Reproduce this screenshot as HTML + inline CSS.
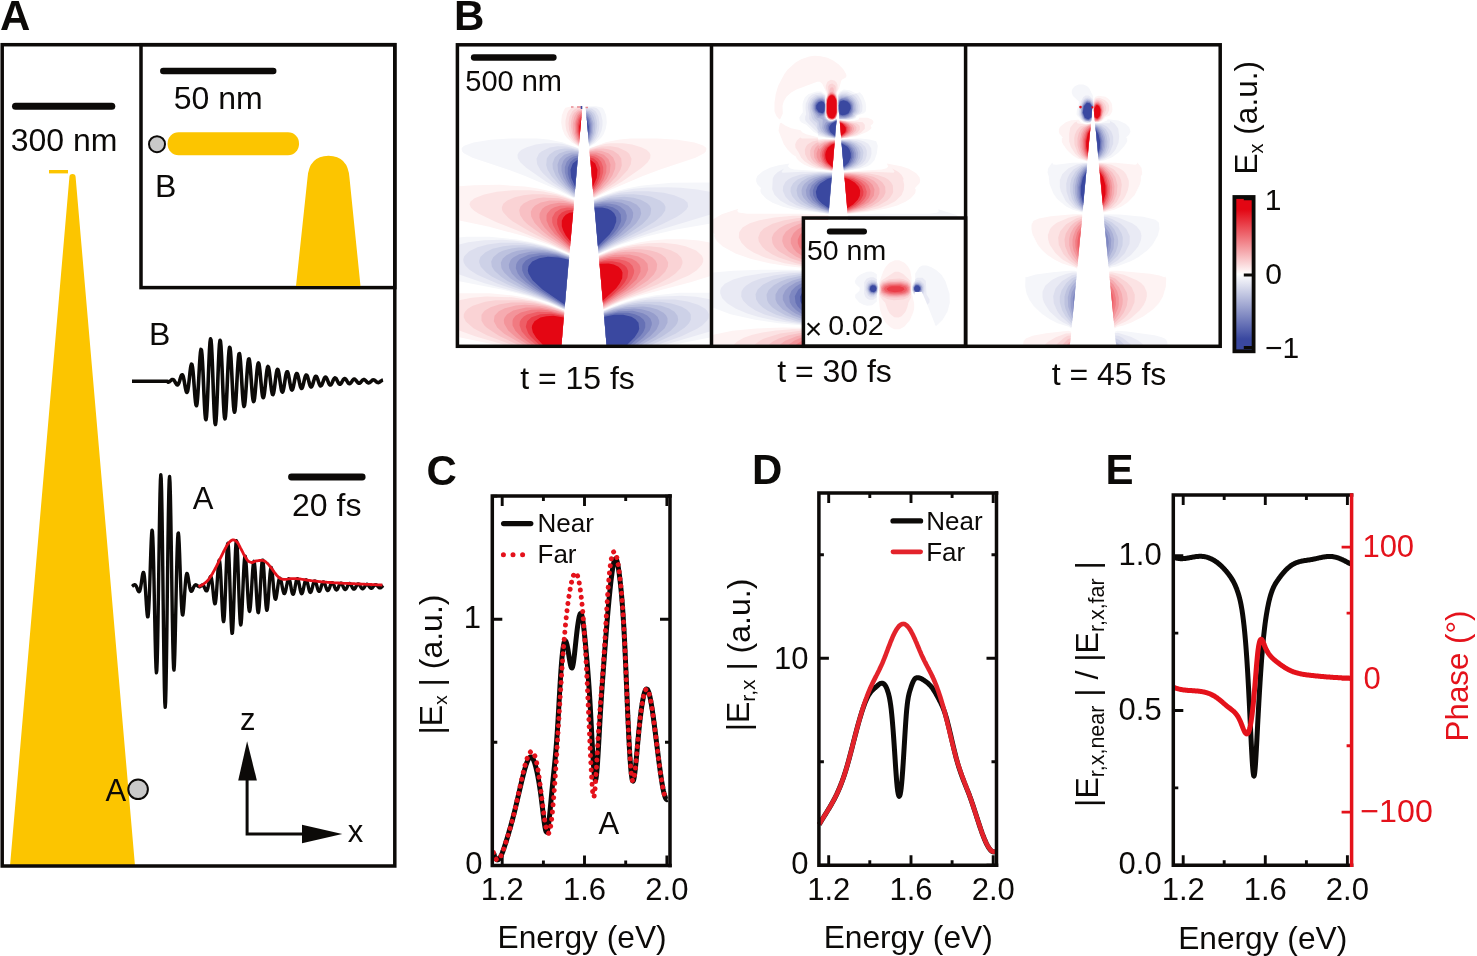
<!DOCTYPE html>
<html><head><meta charset="utf-8"><style>
html,body{margin:0;padding:0;background:#fff;}
svg{display:block;font-family:'Liberation Sans',sans-serif;will-change:transform;-webkit-font-smoothing:antialiased;}
</style></head><body>
<svg width="1477" height="956" viewBox="0 0 1477 956">
<rect width="1477" height="956" fill="#fff"/>
<text x="0" y="30" font-size="42" font-weight="bold" fill="#0c0a08">A</text>
<path d="M10,866 L69.4,177 A3.1,3.1 0 0 1 75.6,177 L135,866 Z" fill="#fcc500"/>
<rect x="49" y="170" width="19" height="3.4" fill="#fcc500"/>
<rect x="2.2" y="44.7" width="392.6" height="821.3" fill="none" stroke="#0c0a08" stroke-width="3.5"/>
<rect x="141" y="44.7" width="253.8" height="242.9" fill="none" stroke="#0c0a08" stroke-width="3.5"/>
<line x1="15.5" y1="106.3" x2="111.8" y2="106.3" stroke="#0c0a08" stroke-width="7" stroke-linecap="round"/>
<text x="10.7" y="150.7" font-size="32" text-anchor="start" font-weight="normal" fill="#0c0a08" >300 nm</text>
<line x1="163.3" y1="71" x2="273.2" y2="71" stroke="#0c0a08" stroke-width="6.5" stroke-linecap="round"/>
<text x="173.8" y="108.6" font-size="32" text-anchor="start" font-weight="normal" fill="#0c0a08" >50 nm</text>
<rect x="167.6" y="132.2" width="131.4" height="23" rx="11" fill="#fcc500"/>
<circle cx="157" cy="144.2" r="8" fill="#c9c9c9" stroke="#0c0a08" stroke-width="2"/>
<text x="155" y="197.3" font-size="32" text-anchor="start" font-weight="normal" fill="#0c0a08" >B</text>
<path d="M296,286 L307.5,178 Q309,156 328.5,155.8 Q348,156 349.5,178 L360.5,286 Z" fill="#fcc500"/>
<path d="M132.0,381.3L132.5,381.3L133.0,381.3L133.5,381.3L134.0,381.3L134.5,381.3L135.0,381.3L135.5,381.3L136.0,381.3L136.5,381.3L137.0,381.3L137.5,381.3L138.0,381.3L138.5,381.3L139.0,381.3L139.5,381.3L140.0,381.3L140.5,381.3L141.0,381.3L141.5,381.3L142.0,381.3L142.5,381.3L143.0,381.3L143.5,381.3L144.0,381.3L144.5,381.3L145.0,381.3L145.5,381.3L146.0,381.3L146.5,381.3L147.0,381.3L147.5,381.3L148.0,381.3L148.5,381.3L149.0,381.3L149.5,381.3L150.0,381.3L150.5,381.3L151.0,381.3L151.5,381.3L152.0,381.3L152.5,381.3L153.0,381.3L153.5,381.3L154.0,381.3L154.5,381.3L155.0,381.3L155.5,381.3L156.0,381.3L156.5,381.3L157.0,381.3L157.5,381.3L158.0,381.3L158.5,381.3L159.0,381.3L159.5,381.3L160.0,381.3L160.5,381.3L161.0,381.3L161.5,381.3L162.0,381.3L162.5,381.3L163.0,381.3L163.5,381.3L164.0,381.3L164.5,381.3L165.0,381.3L165.5,381.3L166.0,381.3L166.5,381.3L167.0,381.3L167.5,381.3L168.0,382.1L168.5,382.1L169.0,381.9L169.5,381.6L170.0,381.2L170.5,380.8L171.0,380.3L171.5,379.9L172.0,379.6L172.5,379.5L173.0,379.5L173.5,379.8L174.0,380.3L174.5,381.0L175.0,381.9L175.5,382.8L176.0,383.6L176.5,384.4L177.0,384.8L177.5,384.9L178.0,384.6L178.5,383.8L179.0,382.7L179.5,381.2L180.0,379.5L180.5,377.8L181.0,376.3L181.5,375.2L182.0,374.7L182.5,374.9L183.0,375.8L183.5,377.6L184.0,379.9L184.5,382.7L185.0,385.7L185.5,388.4L186.0,390.7L186.5,392.1L187.0,392.4L187.5,391.5L188.0,389.3L188.5,385.9L189.0,381.7L189.5,377.1L190.0,372.4L190.5,368.4L191.0,365.5L191.5,364.1L192.0,364.6L192.5,367.0L193.0,371.2L193.5,376.9L194.0,383.6L194.5,390.4L195.0,396.8L195.5,401.9L196.0,405.0L196.5,405.7L197.0,403.7L197.5,399.0L198.0,392.1L198.5,383.6L199.0,374.3L199.5,365.2L200.0,357.5L200.5,352.0L201.0,349.4L201.5,350.3L202.0,354.6L202.5,362.0L203.0,371.9L203.5,383.3L204.0,394.9L204.5,405.4L205.0,413.6L205.5,418.6L206.0,419.7L206.5,416.6L207.0,409.5L207.5,399.3L208.0,386.8L208.5,373.4L209.0,360.6L209.5,349.8L210.0,342.3L210.5,338.9L211.0,340.0L211.5,345.6L212.0,355.1L212.5,367.5L213.0,381.4L213.5,395.4L214.0,407.9L214.5,417.6L215.0,423.3L215.5,424.5L216.0,421.1L216.5,413.4L217.0,402.4L217.5,389.2L218.0,375.3L218.5,362.3L219.0,351.4L219.5,343.9L220.0,340.4L220.5,341.4L221.0,346.5L221.5,355.3L222.0,366.6L222.5,379.4L223.0,392.1L223.5,403.4L224.0,412.2L224.5,417.5L225.0,418.9L225.5,416.3L226.0,410.1L226.5,400.9L227.0,389.9L227.5,378.1L228.0,367.0L228.5,357.5L229.0,350.8L229.5,347.4L230.0,347.7L230.5,351.5L231.0,358.4L231.5,367.6L232.0,378.0L232.5,388.5L233.0,398.1L233.5,405.7L234.0,410.5L234.5,412.2L235.0,410.6L235.5,405.9L236.0,398.7L236.5,389.8L237.0,380.2L237.5,371.0L238.0,363.0L238.5,357.1L239.0,353.9L239.5,353.7L240.0,356.4L240.5,361.6L241.0,368.8L241.5,377.2L242.0,385.8L242.5,393.8L243.0,400.3L243.5,404.6L244.0,406.4L244.5,405.5L245.0,402.0L245.5,396.5L246.0,389.4L246.5,381.7L247.0,374.1L247.5,367.4L248.0,362.3L248.5,359.3L249.0,358.8L249.5,360.6L250.0,364.5L250.5,370.2L251.0,376.9L251.5,383.9L252.0,390.5L252.5,396.0L253.0,399.8L253.5,401.6L254.0,401.2L254.5,398.7L255.0,394.4L255.5,388.9L256.0,382.6L256.5,376.4L257.0,370.8L257.5,366.5L258.0,363.8L258.5,363.0L259.0,364.1L259.5,367.1L260.0,371.5L260.5,376.8L261.0,382.5L261.5,387.9L262.0,392.5L262.5,395.9L263.0,397.6L263.5,397.6L264.0,395.8L264.5,392.6L265.0,388.2L265.5,383.2L266.0,378.1L266.5,373.5L267.0,369.8L267.5,367.3L268.0,366.5L268.5,367.2L269.0,369.3L269.5,372.7L270.0,376.9L270.5,381.5L271.0,386.0L271.5,389.9L272.0,392.7L272.5,394.4L273.0,394.6L273.5,393.4L274.0,390.9L274.5,387.5L275.0,383.5L275.5,379.4L276.0,375.5L276.5,372.4L277.0,370.2L277.5,369.3L278.0,369.7L278.5,371.3L279.0,373.9L279.5,377.2L280.0,380.9L280.5,384.5L281.0,387.8L281.5,390.3L282.0,391.7L282.5,392.1L283.0,391.3L283.5,389.4L284.0,386.8L284.5,383.6L285.0,380.3L285.5,377.1L286.0,374.4L286.5,372.6L287.0,371.7L287.5,371.8L288.0,372.9L288.5,374.9L289.0,377.5L289.5,380.5L290.0,383.5L290.5,386.2L291.0,388.3L291.5,389.6L292.0,390.0L292.5,389.5L293.0,388.2L293.5,386.1L294.0,383.6L294.5,380.9L295.0,378.3L295.5,376.1L296.0,374.4L296.5,373.6L297.0,373.5L297.5,374.3L298.0,375.8L298.5,377.9L299.0,380.2L299.5,382.7L300.0,384.9L300.5,386.7L301.0,387.9L301.5,388.4L302.0,388.1L302.5,387.1L303.0,385.5L303.5,383.5L304.0,381.3L304.5,379.2L305.0,377.3L305.5,375.9L306.0,375.1L306.5,375.0L307.0,375.5L307.5,376.6L308.0,378.2L308.5,380.1L309.0,382.1L309.5,383.9L310.0,385.5L310.5,386.5L311.0,387.0L311.5,386.9L312.0,386.1L312.5,384.9L313.0,383.4L313.5,381.6L314.0,379.9L314.5,378.3L315.0,377.1L315.5,376.4L316.0,376.2L316.5,376.5L317.0,377.4L317.5,378.6L318.0,380.1L318.5,381.7L319.0,383.2L319.5,384.5L320.0,385.4L320.5,385.9L321.0,385.8L321.5,385.3L322.0,384.4L322.5,383.2L323.0,381.8L323.5,380.4L324.0,379.1L324.5,378.0L325.0,377.4L325.5,377.1L326.0,377.4L326.5,378.0L327.0,378.9L327.5,380.1L328.0,381.4L328.5,382.7L329.0,383.7L329.5,384.5L330.0,385.0L330.5,385.0L331.0,384.6L331.5,384.0L332.0,383.0L332.5,381.9L333.0,380.7L333.5,379.6L334.0,378.8L334.5,378.2L335.0,377.9L335.5,378.1L336.0,378.5L336.5,379.3L337.0,380.2L337.5,381.2L338.0,382.2L338.5,383.1L339.0,383.8L339.5,384.2L340.0,384.3L340.5,384.1L341.0,383.6L341.5,382.8L342.0,381.9L342.5,381.0L343.0,380.1L343.5,379.4L344.0,378.8L344.5,378.6L345.0,378.6L345.5,379.0L346.0,379.5L346.5,380.3L347.0,381.1L347.5,381.9L348.0,382.7L348.5,383.3L349.0,383.6L349.5,383.7L350.0,383.6L350.5,383.2L351.0,382.6L351.5,381.9L352.0,381.2L352.5,380.4L353.0,379.8L353.5,379.4L354.0,379.1L354.5,379.1L355.0,379.4L355.5,379.8L356.0,380.4L356.5,381.0L357.0,381.7L357.5,382.3L358.0,382.8L358.5,383.2L359.0,383.3L359.5,383.2L360.0,382.9L360.5,382.5L361.0,381.9L361.5,381.3L362.0,380.7L362.5,380.2L363.0,379.8L363.5,379.6L364.0,379.5L364.5,379.7L365.0,380.0L365.5,380.5L366.0,381.0L366.5,381.5L367.0,382.1L367.5,382.5L368.0,382.8L368.5,382.9L369.0,382.8L369.5,382.6L370.0,382.3L370.5,381.9L371.0,381.4L371.5,380.9L372.0,380.4L372.5,380.1L373.0,379.9L373.5,379.9L374.0,380.0L374.5,380.2L375.0,380.6L375.5,381.0L376.0,381.4L376.5,381.9L377.0,382.2L377.5,382.5L378.0,382.6L378.5,382.6L379.0,382.4L379.5,382.2L380.0,381.8L380.5,381.4L381.0,381.0L381.5,380.7L382.0,380.4L382.5,380.2L383.0,380.1" fill="none" stroke="#0c0a08" stroke-width="3.6" stroke-linejoin="round"/>
<text x="149" y="344.7" font-size="32" text-anchor="start" font-weight="normal" fill="#0c0a08" >B</text>
<path d="M132.0,586.4L132.4,586.1L132.8,585.8L133.2,585.4L133.6,585.1L134.0,584.9L134.4,584.7L134.8,584.7L135.2,584.8L135.6,585.2L136.0,585.7L136.4,586.5L136.8,587.4L137.2,588.4L137.6,589.5L138.0,590.5L138.4,591.2L138.8,591.7L139.2,591.8L139.6,591.3L140.0,590.2L140.4,588.6L140.8,586.4L141.2,583.9L141.6,581.0L142.0,578.2L142.4,575.6L142.8,573.6L143.2,572.5L143.6,572.5L144.0,573.8L144.4,576.5L144.8,580.5L145.2,585.8L145.6,591.9L146.0,598.4L146.4,604.8L146.8,610.4L147.2,614.7L147.6,616.9L148.0,616.7L148.4,613.7L148.8,607.8L149.2,599.3L149.6,588.7L150.0,576.5L150.4,563.9L150.8,551.8L151.2,541.4L151.6,534.0L152.0,530.3L152.4,531.2L152.8,537.0L153.2,547.6L153.6,562.6L154.0,580.8L154.4,601.1L154.8,621.7L155.2,640.9L155.6,656.9L156.0,667.9L156.4,672.8L156.8,670.7L157.2,661.3L157.6,645.1L158.0,623.0L158.4,596.8L158.8,568.3L159.2,540.1L159.6,514.5L160.0,493.8L160.4,480.1L160.8,474.7L161.2,478.4L161.6,491.1L162.0,511.9L162.4,539.3L162.8,571.1L163.2,604.7L163.6,637.2L164.0,665.9L164.4,688.3L164.8,702.6L165.2,707.4L165.6,702.4L166.0,688.0L166.4,665.5L166.8,636.9L167.2,604.6L167.6,571.3L168.0,539.8L168.4,512.8L168.8,492.3L169.2,480.0L169.6,476.5L170.0,482.0L170.4,495.6L170.8,515.9L171.2,541.1L171.6,568.7L172.0,596.5L172.4,622.1L172.8,643.5L173.2,659.2L173.6,668.2L174.0,670.1L174.4,665.2L174.8,654.4L175.2,639.0L175.6,620.4L176.0,600.5L176.4,581.1L176.8,563.5L177.2,549.3L177.6,539.2L178.0,533.7L178.4,533.0L178.8,536.5L179.2,543.7L179.6,553.5L180.0,565.0L180.4,577.1L180.8,588.5L181.2,598.6L181.6,606.6L182.0,612.1L182.4,614.8L182.8,615.0L183.2,612.9L183.6,608.9L184.0,603.6L184.4,597.6L184.8,591.5L185.2,585.8L185.6,581.0L186.0,577.2L186.4,574.7L186.8,573.5L187.2,573.6L187.6,574.6L188.0,576.5L188.4,578.8L188.8,581.5L189.2,584.1L189.6,586.4L190.0,588.4L190.4,589.9L190.8,590.9L191.2,591.3L191.6,591.2L192.0,590.8L192.4,590.1L192.8,589.2L193.2,588.2L193.6,587.3L194.0,586.5L194.4,585.8L194.8,585.3L195.2,585.0L195.6,584.8L196.0,584.9L196.4,585.0L196.8,585.3L197.2,585.5L197.6,585.8L198.0,586.1L198.4,586.4L198.8,586.6L199.2,586.7L199.6,586.8L200.0,586.7L200.4,586.4L200.8,586.1L201.2,585.7L201.6,585.4L202.0,585.1L202.4,585.0L202.8,585.0L203.2,585.3L203.6,585.8L204.0,586.6L204.4,587.4L204.8,588.4L205.2,589.3L205.6,590.1L206.0,590.6L206.4,590.9L206.8,590.8L207.2,590.1L207.6,589.0L208.0,587.5L208.4,585.5L208.8,583.4L209.2,581.2L209.6,579.3L210.0,577.7L210.4,576.8L210.8,576.6L211.2,577.3L211.6,578.9L212.0,581.5L212.4,584.8L212.8,588.6L213.2,592.7L213.6,596.6L214.0,600.0L214.4,602.5L214.8,603.8L215.2,603.6L215.6,601.8L216.0,598.6L216.4,594.0L216.8,588.3L217.2,582.0L217.6,575.6L218.0,569.7L218.4,564.9L218.8,561.5L219.2,560.2L219.6,561.0L220.0,564.2L220.4,569.4L220.8,576.4L221.2,584.8L221.6,593.7L222.0,602.5L222.4,610.3L222.8,616.6L223.2,620.5L223.6,621.6L224.0,619.8L224.4,615.0L224.8,607.6L225.2,598.0L225.6,587.1L226.0,575.7L226.4,564.7L226.8,555.2L227.2,548.0L227.6,543.9L228.0,543.3L228.4,546.4L228.8,553.0L229.2,562.5L229.6,574.3L230.0,587.2L230.4,600.3L230.8,612.4L231.2,622.6L231.6,629.7L232.0,633.3L232.4,633.0L232.8,628.8L233.2,620.9L233.6,610.1L234.0,597.4L234.4,583.8L234.8,570.6L235.2,558.8L235.6,549.4L236.0,543.2L236.4,540.7L236.8,542.0L237.2,546.9L237.6,555.1L238.0,565.8L238.4,577.8L238.8,590.2L239.2,601.9L239.6,611.8L240.0,619.2L240.4,623.7L240.8,624.9L241.2,623.0L241.6,618.1L242.0,610.8L242.4,601.8L242.8,592.0L243.2,582.1L243.6,573.1L244.0,565.5L244.4,560.0L244.8,556.9L245.2,556.2L245.6,558.1L246.0,562.3L246.4,568.2L246.8,575.3L247.2,583.0L247.6,590.7L248.0,597.7L248.4,603.7L248.8,608.1L249.2,610.8L249.6,611.4L250.0,609.9L250.4,606.6L250.8,601.6L251.2,595.5L251.6,588.6L252.0,581.6L252.4,575.0L252.8,569.2L253.2,564.8L253.6,562.1L254.0,561.4L254.4,562.8L254.8,566.1L255.2,571.2L255.6,577.7L256.0,585.0L256.4,592.4L256.8,599.4L257.2,605.4L257.6,609.8L258.0,612.2L258.4,612.6L258.8,610.7L259.2,606.8L259.6,601.2L260.0,594.4L260.4,586.9L260.8,579.3L261.2,572.3L261.6,566.4L262.0,562.2L262.4,560.1L262.8,560.1L263.2,562.4L263.6,566.7L264.0,572.5L264.4,579.5L264.8,586.9L265.2,594.0L265.6,600.4L266.0,605.5L266.4,608.9L266.8,610.3L267.2,609.7L267.6,607.2L268.0,603.0L268.4,597.6L268.8,591.5L269.2,585.2L269.6,579.3L270.0,574.3L270.4,570.6L270.8,568.3L271.2,567.6L271.6,568.6L272.0,570.9L272.4,574.3L272.8,578.6L273.2,583.2L273.6,587.8L274.0,591.9L274.4,595.3L274.8,597.7L275.2,599.0L275.6,599.2L276.0,598.3L276.4,596.5L276.8,594.0L277.2,591.2L277.6,588.1L278.0,585.1L278.4,582.5L278.8,580.4L279.2,579.0L279.6,578.2L280.0,578.2L280.4,578.7L280.8,579.9L281.2,581.4L281.6,583.3L282.0,585.5L282.4,587.6L282.8,589.6L283.2,591.3L283.6,592.6L284.0,593.4L284.4,593.6L284.8,593.2L285.2,592.2L285.6,590.8L286.0,589.1L286.4,587.0L286.8,585.0L287.2,583.0L287.6,581.2L288.0,579.8L288.4,579.0L288.8,578.7L289.2,579.1L289.6,580.2L290.0,581.7L290.4,583.7L290.8,586.0L291.2,588.3L291.6,590.4L292.0,592.2L292.4,593.5L292.8,594.2L293.2,594.3L293.6,593.7L294.0,592.5L294.4,590.8L294.8,588.8L295.2,586.5L295.6,584.3L296.0,582.2L296.4,580.5L296.8,579.3L297.2,578.7L297.6,578.7L298.0,579.4L298.4,580.6L298.8,582.3L299.2,584.4L299.6,586.5L300.0,588.7L300.4,590.6L300.8,592.2L301.2,593.2L301.6,593.7L302.0,593.6L302.4,592.8L302.8,591.6L303.2,589.9L303.6,588.0L304.0,586.0L304.4,584.1L304.8,582.4L305.2,581.0L305.6,580.1L306.0,579.8L306.4,580.0L306.8,580.7L307.2,581.9L307.6,583.4L308.0,585.2L308.4,587.0L308.8,588.7L309.2,590.2L309.6,591.4L310.0,592.1L310.4,592.4L310.8,592.1L311.2,591.4L311.6,590.3L312.0,588.9L312.4,587.3L312.8,585.7L313.2,584.1L313.6,582.8L314.0,581.8L314.4,581.1L314.8,580.9L315.2,581.2L315.6,581.9L316.0,583.0L316.4,584.3L316.8,585.7L317.2,587.2L317.6,588.6L318.0,589.8L318.4,590.7L318.8,591.2L319.2,591.4L319.6,591.1L320.0,590.4L320.4,589.4L320.8,588.2L321.2,586.8L321.6,585.5L322.0,584.2L322.4,583.2L322.8,582.4L323.2,582.0L323.6,581.9L324.0,582.2L324.4,582.9L324.8,583.8L325.2,584.9L325.6,586.2L326.0,587.4L326.4,588.5L326.8,589.5L327.2,590.1L327.6,590.5L328.0,590.5L328.4,590.2L328.8,589.5L329.2,588.7L329.6,587.6L330.0,586.5L330.4,585.3L330.8,584.3L331.2,583.5L331.6,582.9L332.0,582.6L332.4,582.6L332.8,583.0L333.2,583.6L333.6,584.4L334.0,585.4L334.4,586.5L334.8,587.5L335.2,588.4L335.6,589.2L336.0,589.7L336.4,590.0L336.8,589.9L337.2,589.5L337.6,588.9L338.0,588.1L338.4,587.2L338.8,586.2L339.2,585.2L339.6,584.4L340.0,583.7L340.4,583.3L340.8,583.1L341.2,583.2L341.6,583.5L342.0,584.1L342.4,584.9L342.8,585.8L343.2,586.7L343.6,587.6L344.0,588.4L344.4,589.0L344.8,589.4L345.2,589.5L345.6,589.4L346.0,589.0L346.4,588.5L346.8,587.7L347.2,586.9L347.6,586.0L348.0,585.2L348.4,584.5L348.8,583.9L349.2,583.6L349.6,583.5L350.0,583.6L350.4,584.0L350.8,584.5L351.2,585.2L351.6,586.0L352.0,586.9L352.4,587.6L352.8,588.3L353.2,588.8L353.6,589.1L354.0,589.1L354.4,589.0L354.8,588.6L355.2,588.1L355.6,587.4L356.0,586.6L356.4,585.9L356.8,585.2L357.2,584.6L357.6,584.2L358.0,583.9L358.4,583.9L358.8,584.1L359.2,584.4L359.6,584.9L360.0,585.6L360.4,586.3L360.8,587.0L361.2,587.6L361.6,588.1L362.0,588.5L362.4,588.7L362.8,588.7L363.2,588.5L363.6,588.2L364.0,587.7L364.4,587.1L364.8,586.4L365.2,585.8L365.6,585.2L366.0,584.8L366.4,584.5L366.8,584.3L367.2,584.3L367.6,584.5L368.0,584.8L368.4,585.3L368.8,585.9L369.2,586.4L369.6,587.0L370.0,587.5L370.4,587.9L370.8,588.2L371.2,588.3L371.6,588.3L372.0,588.1L372.4,587.8L372.8,587.3L373.2,586.8L373.6,586.3L374.0,585.8L374.4,585.4L374.8,585.0L375.2,584.8L375.6,584.7L376.0,584.7L376.4,584.9L376.8,585.2L377.2,585.6L377.6,586.1L378.0,586.5L378.4,587.0L378.8,587.4L379.2,587.7L379.6,587.9L380.0,587.9L380.4,587.9L380.8,587.7L381.2,587.4L381.6,587.0L382.0,586.6L382.4,586.2L382.8,585.8L383.2,585.5" fill="none" stroke="#0c0a08" stroke-width="3.4" stroke-linejoin="round"/>
<path d="M198.4,586.4L199.4,586.1L200.4,585.8L201.4,585.3L202.4,584.7L203.4,584.1L204.4,583.4L205.4,582.7L206.4,581.8L207.4,580.8L208.4,579.6L209.4,578.3L210.4,576.9L211.4,575.4L212.4,573.7L213.4,571.9L214.4,570.1L215.4,568.3L216.4,566.3L217.4,564.3L218.4,562.3L219.4,560.2L220.4,558.2L221.4,556.1L222.4,554.1L223.4,552.0L224.4,550.1L225.4,548.3L226.4,546.4L227.4,544.6L228.4,543.2L229.4,542.1L230.4,541.2L231.4,540.5L232.4,539.9L233.4,539.8L234.4,540.1L235.4,540.7L236.4,541.5L237.4,542.4L238.4,543.9L239.4,545.8L240.4,547.9L241.4,549.7L242.4,551.7L243.4,553.7L244.4,555.5L245.4,557.1L246.4,558.8L247.4,560.3L248.4,561.3L249.4,561.8L250.4,562.2L251.4,562.5L252.4,562.5L253.4,562.1L254.4,561.6L255.4,561.2L256.4,560.9L257.4,560.8L258.4,560.6L259.4,560.5L260.4,560.4L261.4,560.3L262.4,560.3L263.4,560.5L264.4,561.0L265.4,561.7L266.4,562.5L267.4,563.3L268.4,564.4L269.4,565.6L270.4,566.9L271.4,568.2L272.4,569.5L273.4,570.9L274.4,572.3L275.4,573.6L276.4,574.9L277.4,575.9L278.4,576.9L279.4,577.9L280.4,578.6L281.4,578.9L282.4,579.1L283.4,579.3L284.4,579.4L285.4,579.4L286.4,579.3L287.4,579.2L288.4,579.0L289.4,578.8L290.4,578.6L291.4,578.6L292.4,578.6L293.4,578.6L294.4,578.7L295.4,578.7L296.4,578.7L297.4,578.8L298.4,578.8L299.4,578.9L300.4,579.0L301.4,579.2L302.4,579.3L303.4,579.5L304.4,579.6L305.4,579.8L306.4,580.0L307.4,580.1L308.4,580.3L309.4,580.4L310.4,580.5L311.4,580.7L312.4,580.8L313.4,580.9L314.4,581.0L315.4,581.1L316.4,581.2L317.4,581.3L318.4,581.5L319.4,581.6L320.4,581.7L321.4,581.8L322.4,581.9L323.4,582.0L324.4,582.1L325.4,582.1L326.4,582.2L327.4,582.3L328.4,582.4L329.4,582.5L330.4,582.5L331.4,582.6L332.4,582.7L333.4,582.7L334.4,582.8L335.4,582.8L336.4,582.9L337.4,582.9L338.4,583.0L339.4,583.1L340.4,583.1L341.4,583.2L342.4,583.2L343.4,583.3L344.4,583.3L345.4,583.3L346.4,583.4L347.4,583.4L348.4,583.5L349.4,583.5L350.4,583.6L351.4,583.6L352.4,583.7L353.4,583.7L354.4,583.7L355.4,583.8L356.4,583.8L357.4,583.9L358.4,583.9L359.4,584.0L360.4,584.0L361.4,584.1L362.4,584.1L363.4,584.2L364.4,584.2L365.4,584.3L366.4,584.3L367.4,584.3L368.4,584.4L369.4,584.4L370.4,584.5L371.4,584.5L372.4,584.6L373.4,584.6L374.4,584.7L375.4,584.7L376.4,584.8L377.4,584.8L378.4,584.8L379.4,584.9L380.4,584.9L381.4,585.0L382.4,585.0" fill="none" stroke="#e4121b" stroke-width="2.8" stroke-linejoin="round"/>
<text x="192.8" y="508.9" font-size="31" text-anchor="start" font-weight="normal" fill="#0c0a08" >A</text>
<line x1="291.5" y1="477" x2="362.2" y2="477" stroke="#0c0a08" stroke-width="6.8" stroke-linecap="round"/>
<text x="292" y="515.7" font-size="32" text-anchor="start" font-weight="normal" fill="#0c0a08" >20 fs</text>
<path d="M247.1,780 L247.1,834.1 L303,834.1" fill="none" stroke="#0c0a08" stroke-width="3"/>
<path d="M247.1,741.2 L238.2,780.5 L256.9,780.5 Z" fill="#0c0a08"/>
<path d="M342.3,834.1 L302,824.7 L302,843.3 Z" fill="#0c0a08"/>
<text x="240" y="730.4" font-size="31" text-anchor="start" font-weight="normal" fill="#0c0a08" >z</text>
<text x="347.7" y="842.4" font-size="31" text-anchor="start" font-weight="normal" fill="#0c0a08" >x</text>
<text x="105.5" y="801.1" font-size="31" text-anchor="start" font-weight="normal" fill="#0c0a08" >A</text>
<circle cx="138.1" cy="789.3" r="9.8" fill="#c9c9c9" stroke="#0c0a08" stroke-width="2"/>
<text x="454" y="30.3" font-size="42" font-weight="bold" fill="#0c0a08">B</text>
<defs><clipPath id="clip805"><rect x="805" y="220" width="159" height="125"/></clipPath><clipPath id="clip967"><rect x="967" y="46" width="252" height="299"/></clipPath><clipPath id="clip713"><rect x="713" y="46" width="251" height="299"/></clipPath><clipPath id="clip459"><rect x="459" y="46" width="251" height="299"/></clipPath></defs><g clip-path="url(#clip459)"><path fill="#fef3f3" fill-rule="evenodd" d="M459.2 293.2L459.2 337.2 495.2 344.8 561.5 344.8 564.2 310.5 552.5 305.5 540.5 301.5 525.8 297.8 512.8 295.5 489.8 293.2ZM709.8 242.5L698.8 240.5 683.5 239.2 667.2 239.2 651.2 240.5 640.2 242.2 622.8 246.2 611.5 249.8 598.8 255.2 603.5 309.5 619.8 302.2 637.2 296.2 690.5 282.2 709.8 276.2ZM459.2 186.2L459.5 220.5 489.2 226.8 525.2 236.5 551.2 245.5 569.5 253.8 574.2 199.8 563.2 195.2 551.5 191.5 536.5 188.2 524.8 186.5 499.2 184.8 473.8 185.2ZM593.8 198.2L610.8 189.8 642.2 176.2 660.2 169.5 695.5 157.8 704.2 153.2 705.8 151.5 706.5 148.8 705.8 147.5 703.2 145.5 694.5 142.5 677.5 139.8 657.5 138.5 630.8 138.5 619.5 139.5 605.8 142.2 589.5 148.2ZM565.5 107.8L563.8 110.2 561.8 115.5 561.2 122.5 562.2 128.8 564.5 134.5 566.8 137.8 571.5 142.2 578.8 146.8 582.2 106.8 579.2 106.2 571.8 106.2Z"/><path fill="#fce3e4" fill-rule="evenodd" d="M459.2 300.2L459.2 330.5 475.8 336.5 504.2 344.8 561.5 344.8 564.2 310.8 560.5 309.2 537.5 301.5 512.2 297.2 486.2 296.5 471.5 297.8ZM701.8 255.5L696.2 250.5 685.5 246.2 676.5 244.2 662.8 242.8 647.5 243.2 632.2 245.2 616.8 248.8 599.2 255.5 598.8 257.5 603.5 309.2 611.8 304.8 626.2 298.8 669.5 283.8 689.2 275.2 696.8 270.2 701.8 264.8 703.2 261.5 703.2 258.5ZM470.5 201.5L469.5 204.2 470.8 207.5 473.8 210.5 478.8 213.8 496.5 222.2 548.8 243.2 569.5 253.2 573.8 200.2 557.5 194.5 543.2 191.5 530.5 190.2 512.5 190.2 496.8 191.8 484.2 194.5 474.5 198.2ZM649.2 152.2L646.5 149.8 641.2 147.2 632.2 144.5 623.2 143.2 611.2 143.2 605.8 143.8 596.2 146.2 589.8 148.5 589.5 151.5 593.5 197.2 595.5 196.8 621.8 181.8 641.8 167.8 647.5 162.5 650.2 158.2 650.5 154.8ZM574.2 107.2L571.2 108.2 568.8 110.5 567.2 113.5 565.5 120.5 565.5 125.5 566.5 130.8 569.2 136.8 573.5 142.2 578.8 146.2 582.2 107.5Z"/><path fill="#fad3d5" fill-rule="evenodd" d="M463.8 314.2L463.8 317.5 465.8 321.5 473.5 328.2 486.8 335.2 511.5 344.8 561.5 344.8 564.2 311.5 548.5 305.5 531.5 301.5 521.5 300.2 495.8 300.2 485.2 301.8 472.8 305.8 467.8 308.8 465.2 311.5ZM681.2 257.5L677.2 253.5 670.8 250.2 661.5 247.5 649.2 246.2 636.8 246.5 624.8 248.2 611.5 251.5 598.8 256.2 603.5 308.5 621.5 299.5 657.8 284.2 669.5 277.8 675.5 273.5 680.5 268.2 682.5 263.2 682.5 261.2ZM503.5 203.5L501.8 207.2 502.2 210.2 503.2 212.2 508.2 217.8 512.5 221.2 530.2 231.8 569.5 252.5 573.8 201.2 565.5 198.2 556.2 195.8 542.8 194.2 532.5 194.2 523.5 195.2 514.8 197.2 507.2 200.5ZM626.2 151.2L618.2 147.5 610.5 146.2 601.2 146.5 589.5 149.5 593.5 197.2 615.2 182.5 619.5 178.8 627.5 170.2 630.8 164.2 631.5 158.8 629.2 153.8ZM582.2 108.2L577.2 108.2 574.2 109.5 572.2 111.5 569.5 116.8 568.5 123.5 569.2 130.2 571.2 136.2 573.8 140.5 578.8 145.5Z"/><path fill="#f8c0c4" fill-rule="evenodd" d="M481.5 314.8L481.5 320.8 484.2 325.2 486.8 327.8 498.8 335.8 517.8 344.8 561.5 344.8 564.2 312.2 559.8 310.2 549.8 306.8 536.5 303.8 524.8 302.5 511.8 302.5 499.8 304.2 490.5 307.2 484.5 310.8ZM665.5 257.5L661.2 254.2 656.8 252.2 649.5 250.2 641.2 249.2 632.2 249.2 620.8 250.5 608.5 253.5 599.2 256.8 603.5 307.5 645.5 286.5 659.5 277.5 665.2 271.8 667.8 266.8 668.2 262.5ZM520.5 206.5L519.2 210.2 520.2 215.2 523.5 220.2 527.5 224.2 542.5 235.2 569.5 251.5 573.8 202.2 558.5 198.2 543.2 197.5 537.5 198.2 529.8 200.2 523.5 203.5ZM613.2 150.8L608.2 149.2 603.2 148.5 596.2 148.8 589.5 150.5 593.5 196.2 609.8 183.5 616.5 176.2 620.5 169.5 621.8 165.2 621.2 158.5 618.5 154.5ZM582.2 109.2L578.5 109.5 574.2 112.8 572.5 115.8 571.2 120.8 570.8 125.8 572.2 133.8 574.8 139.5 578.8 144.5Z"/><path fill="#f6abb0" fill-rule="evenodd" d="M494.5 315.8L493.8 321.2 497.2 327.5 504.2 333.8 523.2 344.8 561.5 344.8 564.2 312.8 563.2 312.2 545.2 306.8 533.5 305.2 524.8 304.8 515.8 305.5 504.8 308.2 498.8 311.2ZM655.5 260.5L652.5 257.5 646.8 254.5 641.2 252.8 633.5 251.8 625.8 251.8 616.8 252.8 607.8 254.8 599.2 257.8 603.2 306.8 632.8 290.5 647.8 280.5 653.8 274.5 656.5 269.8 657.2 264.2ZM535.2 205.5L532.5 208.2 530.8 211.8 531.2 216.5 534.5 222.8 541.8 230.5 548.8 236.2 569.8 250.2 573.8 203.5 563.2 200.8 549.8 200.5 540.8 202.5ZM601.2 150.8L595.8 150.5 589.5 151.5 593.5 194.8 601.8 188.2 608.2 181.5 612.2 175.8 615.2 168.5 615.5 163.5 613.2 157.5 608.8 153.5ZM581.8 110.2L578.2 111.5 576.2 113.5 574.2 117.2 572.8 123.2 572.8 128.5 573.8 133.8 576.2 139.5 579.2 143.8Z"/><path fill="#f3949a" fill-rule="evenodd" d="M504.5 317.8L503.8 320.2 504.2 323.8 508.2 330.5 516.2 337.5 527.8 344.8 561.5 344.8 564.2 313.5 555.5 310.5 539.2 307.5 526.2 307.5 513.2 310.5 507.2 314.2ZM643.8 259.5L638.2 256.5 629.2 254.5 614.8 254.8 603.8 257.2 599.2 258.8 603.2 305.8 632.8 287.5 643.8 277.8 645.8 275.2 648.2 269.8 647.5 263.8ZM545.2 206.5L542.2 208.8 539.5 213.8 539.5 217.8 541.2 222.5 544.5 227.5 551.2 234.5 569.8 249.2 573.8 204.5 566.5 203.2 558.8 202.8 550.5 204.2ZM589.8 152.5L593.5 193.8 599.8 187.8 606.8 178.8 609.8 172.2 610.5 164.5 608.5 159.2 603.8 154.8 596.8 152.5ZM581.8 111.2L579.8 112.2 577.2 115.2 574.5 123.2 575.2 133.5 577.2 139.2 579.2 142.5Z"/><path fill="#f17a81" fill-rule="evenodd" d="M513.2 318.8L512.5 320.8 512.5 325.2 515.2 330.5 521.8 337.5 531.8 344.8 561.5 344.8 563.8 314.2 547.8 310.2 540.8 309.5 531.2 309.8 520.8 312.5 515.5 315.8ZM636.2 261.2L631.8 258.8 623.2 256.8 610.5 257.2 599.2 259.8 603.2 304.8 625.8 289.5 636.5 279.5 640.5 271.8 640.5 267.2 639.2 264.2ZM554.5 207.2L550.8 209.2 547.2 213.5 546.5 215.5 546.5 220.5 549.2 226.8 554.5 233.8 569.8 247.5 573.5 206.2 570.8 205.5 560.8 205.5ZM589.8 154.2L593.2 192.5 599.8 185.2 603.5 179.5 606.2 172.5 606.5 165.8 604.5 160.5 601.8 157.5 595.8 154.5ZM581.8 112.5L578.5 115.8 576.5 120.5 575.8 124.5 576.2 132.5 579.2 140.8Z"/><path fill="#ee5e66" fill-rule="evenodd" d="M521.2 319.2L519.8 321.8 519.5 325.2 521.8 331.5 527.2 337.8 535.8 344.8 561.5 344.8 563.8 315.2 551.2 312.2 537.8 311.8 527.2 314.5 523.8 316.5ZM629.5 262.8L625.5 260.8 618.5 259.2 608.5 259.2 599.2 261.2 603.2 303.5 623.2 288.5 628.2 283.5 631.8 278.5 633.8 273.8 634.2 270.5 632.5 265.8ZM567.2 207.5L560.8 208.8 555.2 212.2 552.2 217.5 552.2 222.2 553.2 225.5 557.2 232.5 562.8 239.2 570.2 246.2 573.5 207.8ZM589.8 155.5L593.2 190.8 599.2 182.8 601.5 178.2 603.2 172.2 603.2 167.2 601.2 161.8 598.2 158.5 594.5 156.5ZM581.5 114.2L578.5 118.8 577.2 124.2 577.2 131.5 579.5 139.8Z"/><path fill="#ea3e48" fill-rule="evenodd" d="M527.2 321.2L525.8 326.8 528.2 333.2 530.8 336.8 539.2 344.8 561.5 344.8 563.8 316.2 551.5 313.8 540.5 314.2 531.5 317.2ZM620.2 262.8L612.2 261.2 603.5 261.5 599.5 262.5 602.8 302.5 612.2 295.2 620.5 287.5 624.8 282.2 627.5 277.2 628.2 271.2 626.8 267.8 624.8 265.5ZM573.2 209.5L566.2 210.5 561.8 212.5 558.8 215.5 557.2 219.2 557.2 224.2 559.5 230.5 564.5 237.8 570.2 243.8ZM590.2 157.5L592.8 189.2 596.5 183.8 598.8 178.8 600.2 173.8 600.2 167.8 597.5 161.8 593.5 158.5ZM581.5 116.2L579.5 119.5 578.2 125.5 578.2 131.2 579.5 137.5Z"/><path fill="#e40613" fill-rule="evenodd" d="M534.5 321.2L532.2 325.2 531.8 327.5 532.8 332.2 536.2 337.8 542.8 344.8 561.5 344.8 563.8 317.5 553.5 315.8 546.2 316.2 540.5 317.5ZM613.8 264.5L608.5 263.5 599.5 263.8 602.8 300.8 616.2 288.2 619.8 283.2 622.2 278.2 622.5 272.5 621.2 269.5 618.5 266.8ZM573.2 212.2L569.5 212.8 565.8 214.8 563.5 217.2 561.8 220.8 561.8 226.2 563.2 230.5 565.8 235.5 570.5 241.5ZM590.5 159.8L592.8 186.8 596.8 177.8 597.5 169.8 595.2 163.5ZM581.2 118.8L579.2 126.8 579.8 135.2Z"/><path fill="#f5f6fa" fill-rule="evenodd" d="M709.8 292.8L679.2 292.8 654.2 295.5 637.2 298.8 626.2 301.8 614.5 305.8 603.8 310.5 606.5 344.8 673.8 344.8 709.8 337.5ZM459.2 237.5L459.2 281.2 501.5 289.5 525.2 295.2 548.2 302.5 564.5 309.8 569.2 257.5 568.8 254.8 558.2 250.2 545.5 245.8 532.8 242.5 516.8 239.5 489.2 236.8 466.5 236.8ZM709.8 182.5L671.2 182.8 640.5 185.8 626.5 188.5 613.8 191.8 593.8 199.5 598.5 253.8 621.5 244.2 646.2 236.5 676.2 229.5 709.5 223.8ZM461.5 148.8L462.2 151.5 463.8 153.2 472.5 157.8 507.8 169.5 525.8 176.2 557.2 189.8 574.2 198.2 578.5 148.2 562.2 142.2 548.5 139.5 537.2 138.5 510.5 138.5 490.5 139.8 473.5 142.5 464.8 145.5 462.8 146.8ZM596.2 106.2L588.8 106.2 585.8 106.8 589.2 146.8 595.2 143.2 601.2 137.8 603.5 134.5 605.8 128.8 606.8 122.5 606.2 115.5 604.2 110.2 602.5 107.8Z"/><path fill="#e9eaf4" fill-rule="evenodd" d="M709.8 299.2L696.2 296.8 681.2 295.8 656.2 296.8 642.2 298.8 627.5 302.2 603.8 310.8 606.5 344.8 665.2 344.8 709.8 331.5ZM459.2 244.5L459.2 274.5 484.5 283.2 530.5 295.8 551.8 303.5 564.5 309.5 569.2 255.2 557.2 250.2 544.5 246.2 528.2 242.5 513.2 240.5 502.5 239.8 484.2 240.2 468.2 242.2ZM709.8 191.8L697.2 189.5 680.8 187.8 667.2 187.2 647.2 187.5 633.5 188.8 618.8 191.5 602.2 196.5 594.2 199.8 598.5 253.8 616.5 245.2 637.5 237.2 661.8 229.2 709.8 214.8ZM518.8 152.2L517.5 154.8 517.8 158.2 520.5 162.5 526.2 167.8 546.2 181.8 572.5 196.8 574.5 197.2 578.5 151.5 578.2 148.5 571.8 146.2 562.2 143.8 556.8 143.2 544.8 143.2 535.8 144.5 526.8 147.2 521.5 149.8ZM593.8 107.2L585.8 107.5 589.2 146.2 594.5 142.2 598.8 136.8 601.5 130.8 602.5 125.5 602.5 120.5 600.8 113.5 599.2 110.5 596.8 108.2Z"/><path fill="#dcdeee" fill-rule="evenodd" d="M708.8 314.2L707.2 310.8 705.2 308.8 698.2 304.8 687.5 301.5 674.8 299.5 648.8 299.5 634.8 301.5 621.2 304.8 611.2 308.2 603.8 311.5 606.5 344.8 657.8 344.8 681.5 336.2 697.5 328.5 702.5 325.2 707.2 320.5 708.5 318.2ZM464.2 256.2L463.2 259.8 463.8 262.8 465.5 265.8 469.5 269.8 477.2 274.8 497.8 283.8 540.8 298.5 553.8 303.8 564.5 309.2 569.2 255.5 553.5 249.5 534.5 244.8 518.2 242.8 500.5 242.8 487.5 244.5 477.5 247.2 469.2 251.2ZM687.5 202.5L683.8 199.2 674.2 195.2 663.8 192.8 648.2 191.2 634.8 191.2 619.8 192.8 605.8 196.2 593.8 200.5 598.5 253.2 613.2 245.5 661.5 224.5 676.2 217.2 681.5 213.8 686.2 209.8 688.2 206.5ZM541.8 151.2L538.8 153.8 536.5 158.8 537.2 164.2 540.5 170.2 543.2 173.5 552.8 182.5 574.5 197.2 578.5 149.5 566.8 146.5 557.5 146.2 549.8 147.5ZM585.8 108.2L589.2 145.5 594.2 140.5 596.8 136.2 598.8 130.2 599.5 123.5 598.5 116.8 595.8 111.5 591.8 108.5Z"/><path fill="#cdd1e7" fill-rule="evenodd" d="M690.8 314.8L689.8 312.8 686.8 309.8 681.8 306.8 671.5 303.5 659.5 301.8 644.5 301.8 633.2 303.2 620.8 305.8 611.2 308.8 603.8 311.8 606.5 344.8 651.8 344.8 675.5 333.8 684.5 327.8 688.8 323.5 690.8 319.8ZM480.5 256.8L479.2 260.5 479.2 262.5 480.8 266.8 486.5 272.8 491.8 276.5 507.5 284.5 541.5 297.8 564.5 308.5 569.2 257.5 568.8 255.8 554.5 250.5 540.8 247.2 524.8 245.2 512.2 245.2 503.2 246.2 492.5 248.8 485.5 252.2ZM663.8 203.5L660.2 200.5 651.2 196.8 643.5 195.2 633.2 194.2 621.5 194.5 612.2 195.8 602.5 198.2 594.2 201.2 598.5 252.5 609.5 246.2 638.8 231.2 655.2 221.2 661.8 215.5 665.2 210.5 665.5 206.8ZM554.8 150.8L549.5 154.5 546.8 158.5 546.2 165.2 547.5 169.5 551.5 176.2 558.2 183.5 574.5 196.2 578.5 150.5 571.8 148.8 564.8 148.5 559.8 149.2ZM585.8 109.2L589.2 144.5 593.2 139.5 595.8 133.8 597.2 125.8 596.8 120.8 595.5 115.8 593.8 112.8 589.5 109.5Z"/><path fill="#bdc2df" fill-rule="evenodd" d="M677.5 315.8L674.5 311.8 669.2 308.5 661.2 305.8 649.2 304.2 639.2 304.2 627.5 305.5 615.8 308.2 603.8 312.5 606.5 344.8 646.5 344.8 661.8 336.8 670.5 330.8 675.5 325.8 677.2 323.2 678.2 319.8ZM493.2 257.2L491.2 261.5 491.8 266.5 494.5 270.8 501.2 276.8 507.8 281.2 520.8 287.8 547.5 299.5 564.5 308.2 569.2 256.5 557.5 252.2 545.5 249.2 533.2 247.5 518.5 247.5 511.2 248.5 502.8 250.8 498.5 252.8ZM649.8 205.8L647.2 203.2 640.8 199.8 633.5 197.8 624.5 196.8 609.5 197.8 594.5 201.8 594.2 204.5 598.5 251.5 626.5 235.2 642.2 224.2 647.8 218.5 650.5 214.2 651.2 208.8ZM566.8 150.8L559.2 153.5 554.8 157.5 552.5 163.5 552.8 168.5 555.8 175.8 559.8 181.5 566.2 188.2 574.5 194.8 578.5 151.5 572.2 150.5ZM586.2 110.2L588.8 143.8 591.8 139.5 594.2 133.8 595.2 128.5 595.2 123.2 593.8 117.2 591.8 113.5 589.8 111.5Z"/><path fill="#aab0d6" fill-rule="evenodd" d="M667.5 318.2L666.2 315.5 663.5 312.8 657.5 309.5 650.5 307.5 643.2 306.5 626.2 307.2 613.5 309.8 603.8 313.2 606.5 344.8 641.8 344.8 655.2 336.8 664.5 328.5 667.5 322.8ZM502.8 258.5L500.8 262.8 501.5 268.2 504.2 272.5 510.5 278.5 525.5 287.8 564.5 307.5 569.2 257.2 558.2 253.2 548.2 250.8 537.8 249.5 526.2 249.5 517.2 250.8 511.8 252.5 506.5 255.2ZM636.8 204.8L630.5 201.5 621.5 199.5 609.2 199.5 594.2 202.8 598.5 250.8 623.2 234.5 631.5 227.8 636.2 223.2 639.8 217.8 641.2 213.5 640.2 208.5ZM578.2 152.5L571.2 152.5 564.2 154.8 559.5 159.2 557.5 164.5 558.2 172.2 561.2 178.8 565.5 184.8 574.5 193.8ZM586.2 111.2L588.8 142.5 590.8 139.2 592.8 133.5 593.5 123.2 590.8 115.2 588.2 112.2Z"/><path fill="#969dcc" fill-rule="evenodd" d="M657.5 316.8L653.8 313.5 649.2 311.2 641.5 309.2 634.2 308.5 620.2 309.5 603.8 313.8 606.5 344.8 637.8 344.8 650.2 336.2 656.5 329.5 659.2 323.5 659.2 320.8ZM510.8 259.8L508.8 264.5 509.2 268.2 511.8 273.5 516.8 278.8 532.5 289.5 564.8 306.8 568.8 257.5 559.8 254.5 548.8 252.2 543.2 251.5 531.2 251.5 519.2 254.2 513.2 257.5ZM628.2 205.8L621.5 202.8 613.8 201.5 603.5 201.8 594.2 203.8 598.2 249.8 618.5 235.2 630.2 223.2 632.8 217.5 633.2 212.8 631.8 209.5ZM578.2 154.2L572.2 154.5 566.2 157.5 563.5 160.5 561.5 165.8 561.5 170.8 563.5 177.5 568.2 185.2 574.8 192.5ZM586.2 112.5L588.8 140.8 591.8 132.5 592.2 124.5 590.8 118.5 588.8 114.8Z"/><path fill="#7f88c1" fill-rule="evenodd" d="M650.5 318.8L647.2 315.5 642.8 313.2 632.8 310.8 618.8 311.2 604.5 314.5 604.2 318.2 606.5 344.8 634.2 344.8 643.2 337.8 649.8 330.2 651.8 324.8 651.8 322.5ZM520.2 258.8L517.8 261.2 516.2 264.2 515.8 268.2 517.8 273.5 520.8 277.5 526.2 282.5 535.5 289.2 564.8 306.5 568.8 258.2 555.5 254.5 548.8 253.5 539.2 253.2 528.5 254.8ZM620.2 206.5L616.2 204.8 608.8 203.5 602.8 203.5 594.5 204.8 598.2 248.8 615.8 234.5 623.8 225.2 626.5 219.2 626.8 215.5 625.2 210.8ZM578.2 155.5L573.5 156.5 569.8 158.5 566.8 161.8 564.8 167.2 564.8 172.2 566.5 178.2 568.8 182.8 574.8 190.8ZM586.5 114.2L588.5 139.8 590.8 131.5 590.8 124.2 589.5 118.8Z"/><path fill="#6671b5" fill-rule="evenodd" d="M604.2 315.5L606.5 344.8 630.5 344.8 640.5 335.8 643.2 332.2 645.2 327.5 645.2 322.8 643.5 319.5 639.5 316.2 634.8 314.2 628.2 312.8 617.5 312.8ZM525.8 260.5L522.8 264.2 522.2 266.2 522.2 270.5 524.2 275.2 526.8 278.8 531.2 283.2 538.8 289.2 564.8 305.8 568.8 259.2 556.5 255.8 540.8 255.2 531.8 257.2ZM612.8 207.2L605.5 205.5 594.5 206.2 598.2 247.5 606.5 240.5 613.8 233.2 617.5 228.5 620.5 222.8 621.2 220.5 620.8 214.5 617.8 210.2ZM577.8 157.5L574.5 158.5 570.5 161.8 567.8 167.8 567.8 173.8 569.2 178.8 571.5 183.8 575.2 189.2ZM586.5 116.2L588.5 137.5 589.8 131.2 589.8 125.5 588.5 119.5Z"/><path fill="#3a48a0" fill-rule="evenodd" d="M604.2 316.8L606.5 344.8 627.2 344.8 634.5 337.5 638.2 331.8 639.2 328.8 638.5 322.8 635.5 319.2 631.5 316.8 623.2 314.8 614.2 314.8ZM532.2 261.5L528.5 266.2 527.8 270.5 528.5 273.5 532.5 280.2 542.5 289.5 564.8 304.8 568.8 259.8 558.8 257.5 547.8 256.8 539.2 258.2ZM602.2 207.5L594.5 207.5 597.8 246.2 609.5 234.5 613.8 228.2 616.2 221.8 616.2 217.5 614.2 213.2 611.2 210.5 607.8 208.8ZM577.5 159.8L572.8 163.5 570.5 169.8 571.2 177.8 575.2 186.8ZM586.8 118.8L588.2 135.2 588.8 126.8Z"/></g><g clip-path="url(#clip713)"><path fill="#fef3f3" fill-rule="evenodd" d="M818.8 328.8L807.8 327.8 783.2 327.5 756.2 328.5 732.5 330.8 713.2 334.8 713.2 344.8 817.5 344.8ZM852.5 271.5L857.2 327.5 861.5 326.5 900.5 322.8 922.8 319.5 946.8 313.8 963.8 307.5 963.8 272.5 942.5 270.8 914.8 269.8 884.2 269.8ZM713.2 219.2L713.2 232.8 714.8 234.2 714.2 235.8 715.5 239.2 717.2 241.5 722.8 246.5 735.5 253.5 750.5 258.8 769.2 263.2 788.5 266.2 823.8 270.2 828.5 215.2 801.2 213.8 747.2 213.8 738.5 212.5 737.2 210.8 738.5 208.8 721.8 214.2ZM919.5 177.2L916.2 173.2 908.8 168.8 901.2 166.2 886.8 163.5 888.2 166.5 886.5 168.2 881.8 169.5 844.2 171.8 847.5 213.5 849.5 213.8 864.2 212.2 885.5 208.8 896.5 205.8 905.5 201.8 910.8 198.2 915.2 193.2 915.8 189.5 914.8 188.2 919.5 183.2 920.2 180.8ZM779.8 123.5L778.5 130.8 783.8 144.2 787.5 149.5 792.2 154.2 795.8 156.5 796.8 158.8 799.5 161.5 803.8 164.5 810.8 167.5 817.8 169.2 832.2 171.2 834.8 139.5 818.2 138.8 817.8 137.2 806.2 134.2 802.2 132.2 800.5 130.2 791.2 128.2 785.2 125.5 781.2 122.8ZM873.2 120.8L871.5 119.2 867.5 117.8 858.8 117.8 859.2 118.8 858.2 119.8 854.2 120.8 847.2 120.8 839.8 119.8 841.2 138.5 856.5 136.2 867.2 131.8 871.2 128.8 871.5 127.5 870.5 125.8 872.8 123.8 873.5 122.2ZM843.5 69.5L838.8 64.5 833.2 60.5 827.5 57.8 820.8 56.2 814.2 55.8 809.2 56.5 801.2 59.2 795.5 62.5 787.5 69.8 784.2 74.2 778.2 85.8 775.8 93.8 774.5 102.5 774.5 111.5 776.5 116.2 779.2 119.2 780.2 119.2 782.8 113.5 782.5 105.8 783.8 101.2 786.5 96.8 791.2 92.5 796.5 89.5 817.2 81.8 819.8 81.8 822.2 83.8 826.8 93.5 825.8 101.8 825.8 113.2 826.5 116.5 828.8 119.5 830.5 120.2 832.2 120.2 835.8 118.5 836.8 116.5 837.5 110.2 836.8 92.5 839.2 88.2 841.2 80.8 842.2 79.5 845.5 77.8 846.5 76.2 846.2 74.2Z"/><path fill="#fce3e4" fill-rule="evenodd" d="M818.8 329.5L792.8 329.2 775.8 330.5 762.5 332.5 752.5 334.8 743.8 337.8 737.2 341.5 733.8 344.8 817.5 344.8ZM852.5 272.2L857.2 326.8 898.8 321.2 925.2 314.8 936.5 310.5 947.8 304.2 953.5 298.8 955.8 294.2 956.2 291.8 955.5 288.8 953.8 286.2 950.8 283.5 942.2 279.2 930.2 275.8 913.5 273.2 892.8 271.5 864.5 271.2ZM828.5 215.8L792.8 215.8 774.5 217.5 759.5 220.2 749.8 223.2 742.5 227.5 739.2 232.2 738.8 237.5 741.5 242.8 746.8 248.2 753.5 252.5 765.5 257.8 784.5 263.2 823.8 269.5ZM901.5 174.8L898.2 171.8 892.2 168.5 894.5 171.5 893.5 172.8 874.2 171.8 844.2 172.2 847.5 213.5 867.2 210.8 879.2 208.2 888.5 204.8 895.2 201.2 901.5 195.2 903.8 189.8 904.2 184.5 903.2 180.5 903.5 178.5ZM796.8 140.5L795.2 144.2 795.5 147.8 798.5 152.2 801.2 157.8 804.5 161.2 809.8 164.8 815.8 167.5 832.2 170.8 834.8 139.5 822.8 139.5 818.5 140.2 817.8 138.5 801.8 138.5 800.2 137.5ZM839.8 120.2L841.2 138.5 847.8 137.5 856.2 135.2 861.2 132.5 864.8 128.8 864.8 124.8 862.8 122.2ZM830.8 79.8L827.5 81.8 825.8 85.5 825.8 88.5 827.2 91.8 827.2 95.2 826.2 98.8 826.2 114.8 828.2 118.8 829.8 119.8 833.2 119.8 835.8 118.5 837.2 114.2 837.5 99.8 836.2 92.5 837.5 89.2 837.5 84.8 836.5 82.5 834.5 80.5Z"/><path fill="#fad3d5" fill-rule="evenodd" d="M818.5 330.5L802.2 330.5 780.2 333.5 764.2 338.5 760.2 340.5 754.5 344.8 817.5 344.8ZM852.8 272.5L857.2 326.2 887.8 321.2 910.8 314.8 922.5 309.5 927.2 306.5 932.5 301.5 934.8 297.2 934.8 291.8 930.8 286.2 921.8 280.8 913.2 277.8 903.2 275.5 886.2 273.2 868.8 272.2ZM828.2 216.8L816.5 216.5 796.5 218.2 783.5 220.5 772.5 223.8 763.8 228.5 760.2 232.2 758.2 237.5 758.8 241.5 762.2 246.8 765.8 250.2 772.5 254.5 778.8 257.5 796.2 263.2 823.8 268.8ZM844.2 172.8L847.5 213.2 864.5 210.2 878.2 205.8 887.2 200.5 890.2 197.5 892.5 193.8 893.2 191.8 892.8 185.5 891.2 182.5 888.2 179.5 884.8 177.5 878.2 175.2 869.5 173.5 857.8 172.5ZM807.8 144.2L806.2 146.2 804.8 149.5 805.2 154.5 807.8 159.5 812.2 163.5 818.2 166.8 825.2 169.2 832.2 170.5 834.8 139.8 825.5 140.2 818.8 141.8 818.2 141.5 818.2 140.2 812.5 141.5ZM839.8 120.2L841.2 138.2 847.2 137.2 853.8 134.8 857.8 132.2 859.8 129.5 859.8 126.5 859.2 125.2 856.8 123.5ZM832.2 83.5L829.8 84.2 828.2 86.2 828.2 92.8 826.2 99.8 826.5 115.8 827.5 117.8 830.5 119.8 832.5 119.8 835.8 118.2 836.8 115.8 837.5 110.2 837.2 98.5 835.5 93.5 835.8 87.2 835.2 85.5Z"/><path fill="#f8c0c4" fill-rule="evenodd" d="M818.5 331.5L804.2 332.2 788.5 335.2 778.8 338.5 772.5 341.8 768.8 344.8 817.5 344.8ZM852.8 273.5L857.2 325.5 884.8 319.8 900.8 314.5 907.2 311.5 913.8 307.2 918.2 302.8 919.8 300.2 920.8 295.2 919.8 291.5 917.8 288.5 912.5 284.2 904.2 280.2 894.5 277.2 879.8 274.5 864.2 273.2ZM828.2 217.8L823.5 217.5 806.8 219.2 794.2 221.8 785.5 224.8 779.2 228.2 773.8 233.2 771.8 237.8 772.5 243.2 774.8 247.2 778.8 251.2 790.8 258.2 803.8 262.8 823.8 267.8ZM844.2 173.2L847.5 212.8 862.2 209.5 871.5 206.2 878.8 201.8 883.8 196.5 885.5 192.5 885.2 186.8 882.2 182.2 878.2 179.2 873.2 176.8 864.2 174.5 852.8 173.2ZM815.5 143.5L811.8 146.8 810.2 150.5 810.2 155.5 811.5 158.8 813.8 161.8 819.8 166.2 826.5 168.8 832.2 170.2 834.8 140.2 825.2 141.2 818.8 143.8 818.2 142.2ZM839.8 120.5L841.2 138.2 847.5 136.5 852.5 134.2 856.2 130.5 856.5 127.2 853.8 124.2 848.8 122.2ZM832.5 87.2L830.8 87.5 829.8 89.2 826.2 100.8 826.5 115.2 827.2 117.2 829.2 119.2 831.2 119.8 833.2 119.5 835.8 117.8 837.2 113.8 837.5 107.5 836.8 97.8 834.2 91.8 833.5 88.2Z"/><path fill="#f6abb0" fill-rule="evenodd" d="M818.5 332.8L808.5 333.5 796.5 336.2 785.2 340.8 779.8 344.8 817.5 344.8ZM852.8 274.2L857.2 324.8 877.5 319.8 891.5 314.8 902.8 308.2 907.2 303.8 909.2 300.2 909.8 295.5 908.5 291.5 904.2 286.5 897.8 282.5 886.2 278.2 875.5 275.8 861.2 274.2ZM828.2 218.8L820.5 219.2 808.8 221.2 799.5 223.8 791.5 227.5 785.8 231.8 782.8 236.5 782.2 241.2 784.2 246.5 788.5 251.5 795.8 256.5 806.2 261.2 824.2 266.5ZM844.2 173.8L847.5 212.2 864.5 207.2 872.8 202.5 877.2 198.2 879.5 193.2 879.5 188.8 877.5 184.5 873.8 180.8 867.5 177.5 859.5 175.2 850.5 173.8ZM834.8 140.5L824.5 142.5 820.8 144.5 818.8 146.5 818.5 144.5 815.5 147.5 813.8 151.2 814.2 157.5 817.2 162.2 824.5 167.2 831.8 169.8 832.5 168.8ZM839.8 120.8L841.5 137.8 848.2 135.5 850.8 133.8 853.2 131.5 854.2 128.5 852.8 125.5 851.2 124.2 845.5 121.8ZM832.2 91.5L830.2 92.2 828.2 94.8 826.8 98.2 826.2 102.8 826.2 112.2 826.8 115.8 828.2 118.2 830.5 119.5 832.5 119.5 835.5 118.2 837.2 112.8 836.8 98.5 835.2 94.5Z"/><path fill="#f3949a" fill-rule="evenodd" d="M818.2 334.2L810.2 335.2 800.8 337.8 794.2 340.8 788.5 344.8 817.5 344.8ZM852.8 275.2L857.2 323.8 872.5 319.5 882.2 315.8 892.8 309.8 899.2 303.2 900.8 299.2 900.5 293.8 898.5 290.2 892.5 284.8 884.5 280.8 873.5 277.5 861.8 275.5ZM827.8 220.2L817.5 221.5 802.5 226.5 797.5 229.5 793.5 233.2 790.8 238.5 790.8 243.2 793.2 248.2 796.8 252.2 801.8 255.8 810.2 260.2 824.2 265.2ZM844.2 174.5L847.5 211.5 859.8 207.5 868.8 202.2 873.8 195.8 874.5 189.2 872.5 184.8 869.2 181.5 864.2 178.5 856.2 175.8 848.5 174.5ZM834.8 141.2L829.5 141.8 824.2 144.2 819.2 149.5 818.5 147.8 816.5 153.2 816.8 157.2 818.8 161.2 819.8 162.2 819.8 161.2 824.8 166.2 832.2 169.5ZM839.8 120.8L841.5 137.5 849.2 133.8 851.8 130.2 851.8 127.5 848.5 123.8ZM830.8 92.8L828.8 94.5 826.8 98.8 826.5 113.8 828.8 118.5 830.2 119.2 833.2 119.2 835.2 118.2 836.8 114.2 837.2 101.8 835.2 95.2 832.8 92.8Z"/><path fill="#f17a81" fill-rule="evenodd" d="M818.2 335.8L814.8 336.2 806.2 338.8 801.2 341.2 795.8 344.8 817.5 344.8ZM852.8 276.2L856.8 322.8 870.8 318.2 880.2 313.8 886.2 309.8 890.8 305.2 893.2 300.5 893.5 296.2 890.8 290.2 886.2 285.8 878.2 281.5 871.5 279.2 861.2 276.8ZM827.8 221.5L818.2 223.5 807.2 228.2 800.2 234.2 797.8 239.5 797.8 243.2 799.5 247.5 805.2 253.8 811.2 257.8 824.2 263.8ZM844.5 175.2L847.2 209.8 847.8 210.8 856.5 207.5 863.8 203.2 868.5 198.2 870.2 194.5 870.5 190.8 868.5 185.5 865.8 182.5 862.5 180.2 853.5 176.5ZM834.8 141.5L829.2 142.8 824.2 145.8 821.5 149.2 820.2 152.8 820.2 156.8 822.2 161.8 826.2 165.8 832.5 168.8ZM839.8 121.2L841.2 137.2 845.2 135.5 849.2 132.2 850.2 130.2 850.2 127.8 849.2 125.8 846.8 123.8ZM830.8 93.5L828.2 96.2 826.8 99.8 826.5 112.8 827.8 117.2 829.8 118.8 832.5 119.2 835.2 117.8 836.5 114.8 837.2 103.2 836.5 98.8 835.2 95.8 833.8 94.2Z"/><path fill="#ee5e66" fill-rule="evenodd" d="M817.8 337.8L811.5 339.5 802.5 344.8 817.5 344.8ZM853.2 277.5L856.5 319.5 857.2 321.5 874.2 314.2 880.8 309.5 885.2 304.5 886.5 301.8 887.2 297.2 886.5 294.2 884.2 290.2 877.8 284.8 865.2 279.5 856.5 277.5ZM827.8 223.2L819.5 225.5 810.8 230.2 805.5 235.8 803.8 240.8 804.5 245.5 807.2 250.2 814.2 256.5 824.5 262.2ZM844.5 175.8L847.5 210.2 856.2 206.2 860.2 203.5 864.8 198.5 866.2 195.8 866.8 191.8 864.8 185.8 860.5 181.5 854.2 178.2ZM834.5 142.2L829.8 143.5 825.2 146.8 822.5 151.2 821.8 155.2 822.8 159.8 825.2 163.5 832.5 168.5ZM839.8 121.5L841.2 136.8 847.5 132.5 848.5 130.5 848.5 127.5 845.8 124.2ZM830.8 94.2L828.5 96.2 827.2 99.2 826.5 111.2 828.2 117.2 830.5 118.8 832.8 118.8 834.8 117.8 836.5 114.2 836.8 101.5 834.8 95.8 832.8 94.2Z"/><path fill="#ea3e48" fill-rule="evenodd" d="M817.8 339.8L811.5 342.5 808.2 344.8 817.5 344.8ZM853.2 278.5L856.5 319.5 857.2 320.2 866.5 315.8 874.2 310.8 880.2 303.8 881.2 301.2 881.5 297.2 878.8 290.8 871.8 284.8 864.8 281.5ZM827.5 225.2L822.5 226.8 816.2 230.5 811.8 234.8 809.5 239.8 809.5 244.2 811.5 249.2 817.5 255.5 824.5 260.2ZM844.5 176.8L847.5 209.2 855.5 204.8 860.8 199.8 863.2 195.2 863.5 191.5 861.8 186.5 857.8 182.2 852.8 179.2ZM834.5 142.8L830.5 144.2 826.2 147.8 824.5 150.5 823.5 155.2 824.2 159.2 826.2 162.8 832.5 167.8ZM839.8 121.8L840.8 135.2 841.5 136.2 844.2 134.5 846.8 131.5 847.2 127.5 844.5 124.2ZM831.2 94.5L829.2 95.8 827.2 99.8 826.8 112.8 827.8 116.2 829.2 117.8 833.2 118.5 835.2 116.8 836.5 113.2 836.8 102.8 836.5 100.2 834.8 96.5 833.2 94.8Z"/><path fill="#e40613" fill-rule="evenodd" d="M817.5 342.8L813.8 344.8 817.5 344.8ZM853.2 280.2L856.5 318.8 864.8 314.2 871.5 308.8 874.8 304.2 876.2 297.8 874.2 292.2 869.5 287.2 860.5 282.2ZM827.5 227.8L822.8 229.8 817.5 234.5 815.2 238.5 814.5 241.5 815.2 246.5 816.5 249.2 824.8 257.8ZM844.5 177.8L847.2 208.2 853.2 204.5 857.8 199.8 859.8 195.8 860.2 190.5 858.5 186.5 854.8 182.5 849.2 179.2ZM834.5 143.5L831.8 144.5 827.8 147.8 825.8 151.5 825.2 154.5 825.5 158.2 826.8 161.5 828.5 163.8 832.5 167.2ZM839.8 122.5L841.2 135.8 845.2 132.2 845.8 130.8 845.8 127.5 842.8 123.8ZM832.8 95.2L830.8 95.2 828.8 96.8 827.2 100.8 826.8 103.8 827.2 113.5 828.8 117.2 831.5 118.5 833.5 118.2 834.8 116.8 836.5 112.2 836.2 99.8 834.5 96.5Z"/><path fill="#f5f6fa" fill-rule="evenodd" d="M857.5 328.8L858.8 344.8 963.8 344.8 963.8 335.2 945.8 331.2 928.8 329.2 907.2 327.8 882.8 327.5 861.2 328.2ZM713.2 272.5L713.2 307.8 730.5 314.2 755.2 319.8 778.5 323.2 814.8 326.5 818.8 327.5 823.5 271.5 792.2 269.8 761.2 269.8 733.5 270.8ZM963.8 220.2L962.2 218.5 955.8 214.8 938.2 209.2 938.8 211.5 936.8 212.8 929.2 213.8 875.2 213.8 847.8 215.2 852.5 270.2 890.2 265.8 908.8 262.8 926.8 258.5 942.2 252.8 949.8 248.8 955.5 244.8 961.2 238.5 961.8 236.8 961.5 234.2 963.8 232.2ZM757.5 175.8L756.2 178.8 756.2 181.5 757.5 184.5 761.2 188.2 760.5 189.2 760.5 191.8 761.5 193.8 766.2 198.8 772.5 202.8 782.8 206.8 793.8 209.5 828.5 213.8 832.2 171.8 794.2 169.5 790.5 168.5 788.2 166.8 788.2 165.2 789.5 163.5 778.8 165.2 769.8 167.8 762.8 171.2ZM876.2 141.2L869.5 139.5 860.5 138.5 841.5 139.2 844.2 171.2 860.8 168.5 867.5 166.2 870.8 164.2 874.5 160.2 876.8 153.5 877.8 145.8ZM808.2 94.2L804.8 97.5 803.2 101.2 802.5 104.2 802.8 112.2 799.2 117.5 799.8 120.8 801.8 122.8 806.2 124.8 813.5 131.8 817.8 134.2 818.2 136.2 834.8 138.8 836.5 118.5 832.8 120.5 829.8 120.5 828.5 119.8 825.8 116.5 825.5 94.5 821.2 91.5 816.2 91.5ZM843.8 89.5L839.8 91.8 837.5 95.5 838.2 102.2 837.8 108.8 838.8 109.2 839.5 119.5 849.5 119.8 853.2 119.2 855.5 118.2 856.8 115.8 863.8 113.2 865.8 111.2 866.2 106.5 865.5 102.2 862.8 95.8 859.8 92.2 856.2 93.5 849.5 90.2Z"/><path fill="#e9eaf4" fill-rule="evenodd" d="M857.5 329.5L858.8 344.8 942.5 344.8 938.2 340.8 930.8 337.2 922.5 334.5 911.8 332.2 883.5 329.2ZM823.5 272.2L811.8 271.2 783.2 271.5 762.8 273.2 744.5 276.2 733.2 279.5 724.8 283.8 721.2 287.8 720.2 290.5 720.2 293.2 722.2 298.2 727.5 303.5 735.5 308.5 747.2 313.5 757.8 316.8 775.5 320.8 818.8 326.8ZM847.8 215.8L852.5 269.5 890.2 263.5 912.5 257.2 923.8 251.8 930.2 247.5 934.5 243.2 937.5 236.8 937.2 232.5 935.8 229.8 932.5 226.5 925.5 222.8 915.2 219.8 904.2 217.8 883.5 215.8ZM774.2 175.5L772.8 178.2 772.2 189.2 774.5 194.8 780.5 200.8 788.5 205.2 799.5 208.8 828.5 213.8 832.2 172.2 802.8 171.8 782.8 172.8 781.8 172.2 781.8 171.2 784.2 168.5 777.5 172.2ZM841.5 139.5L844.2 170.8 852.5 169.5 860.5 167.2 864.8 164.8 867.8 162.2 870.5 157.8 871.5 153.8 871.2 148.2 868.2 143.8 864.2 141.5 858.2 139.8 850.5 139.2ZM812.2 94.5L808.8 97.2 805.8 103.5 805.5 108.2 806.2 114.2 805.2 116.5 805.2 119.8 805.8 121.2 817.8 132.8 818.2 134.8 825.8 137.2 834.8 138.5 836.5 118.8 834.2 120.2 830.5 120.8 828.2 119.8 825.8 116.8 825.2 95.2 820.5 92.8 816.2 93.2ZM842.8 91.5L840.2 92.8 837.8 95.8 837.8 108.8 838.8 109.2 839.5 119.2 849.2 119.5 852.5 118.8 855.5 117.2 856.5 115.2 860.2 113.5 862.2 111.2 862.5 105.8 861.2 100.5 858.5 95.8 856.2 93.5 853.5 94.5 847.2 91.5Z"/><path fill="#dcdeee" fill-rule="evenodd" d="M857.5 330.5L858.8 344.8 921.5 344.8 919.5 342.8 912.8 338.8 897.5 333.8 877.8 330.8 867.8 330.2ZM823.5 272.5L807.2 272.2 790.2 273.2 774.8 275.2 760.8 278.5 752.2 281.8 746.2 285.5 743.2 288.5 741.5 291.5 741.2 296.5 743.2 300.8 748.2 305.8 755.5 310.5 764.5 314.5 786.8 320.8 818.8 326.2ZM847.8 216.8L852.5 268.8 882.5 262.5 898.2 257.2 905.5 253.5 910.8 249.8 914.8 245.8 917.5 241.2 917.8 236.2 915.5 231.5 909.8 226.8 902.8 223.5 891.2 220.2 877.2 217.8 859.8 216.5ZM785.5 181.8L783.2 186.2 782.8 190.8 785.5 196.8 789.8 201.2 796.5 205.2 806.5 208.8 828.5 213.2 832.2 172.8 818.8 172.5 800.8 174.5 792.2 177.2 788.5 179.2ZM841.5 139.8L843.8 170.5 855.2 167.8 862.2 163.8 865.2 160.2 866.8 155.5 866.8 150.8 865.2 146.8 861.2 143.2 856.5 141.2 849.2 139.8ZM815.2 95.2L810.5 98.8 808.2 103.8 807.8 107.8 809.2 114.2 809.2 118.8 810.2 120.8 815.8 126.8 817.8 130.2 817.8 132.8 825.8 136.5 834.8 138.2 836.5 118.8 832.5 120.8 829.8 120.8 826.5 118.5 825.5 116.5 825.2 96.5 823.8 95.2 821.8 94.5ZM841.5 93.5L839.2 94.8 838.2 96.5 838.2 108.8 838.8 109.2 839.5 119.2 848.2 119.2 852.2 118.2 854.5 116.8 855.2 115.2 858.2 113.2 859.5 111.2 859.8 105.8 858.8 101.8 856.2 97.2 853.2 94.5 851.2 95.2 846.5 93.2Z"/><path fill="#cdd1e7" fill-rule="evenodd" d="M857.8 331.5L858.8 344.8 907.2 344.8 904.2 342.2 898.2 338.8 886.5 334.8 869.2 331.8ZM823.5 273.5L812.2 273.2 799.2 274.2 786.2 276.2 772.8 279.8 763.2 284.5 757.8 289.2 755.5 294.2 756.2 299.5 758.8 303.8 762.8 307.5 767.8 310.8 776.2 314.8 796.8 321.2 819.2 325.5ZM848.2 217.8L852.2 267.8 873.5 262.5 886.2 257.8 894.2 253.5 898.5 250.2 901.8 246.5 903.8 242.8 904.5 239.5 904.2 236.8 902.2 232.8 897.5 228.5 891.5 225.2 880.8 221.5 871.5 219.5 857.8 217.8ZM793.2 183.2L790.8 187.5 790.5 191.5 792.2 196.2 796.5 201.2 800.8 204.2 808.8 207.8 828.5 212.8 831.8 173.2 819.2 173.5 806.2 175.8 797.5 179.5ZM841.5 140.2L843.8 170.2 852.5 167.8 857.8 164.8 860.8 161.8 862.5 158.8 863.5 152.8 862.8 149.8 861.2 146.8 856.8 143.2 850.2 140.8ZM816.8 96.2L812.2 99.5 809.8 104.5 809.8 109.5 811.8 117.5 812.8 119.5 817.2 123.2 817.5 128.8 819.2 131.5 826.2 135.8 834.8 138.2 836.5 119.2 832.2 121.2 830.2 121.2 827.8 120.2 826.2 118.5 825.2 116.5 825.5 103.8 824.8 97.5 822.5 95.8ZM841.5 94.8L838.8 96.5 838.2 100.2 838.2 108.8 838.8 109.2 839.5 118.8 847.2 118.8 851.2 117.8 853.8 116.2 854.5 115.2 854.2 114.5 856.2 113.2 857.5 111.2 857.8 105.8 856.8 102.2 855.2 99.2 851.2 95.5 849.2 95.8 845.5 94.5Z"/><path fill="#bdc2df" fill-rule="evenodd" d="M857.8 332.8L858.8 344.8 896.5 344.8 889.8 340.2 881.8 336.8 867.8 333.5ZM823.5 274.2L814.8 274.2 798.8 276.2 787.8 278.8 780.5 281.5 773.8 285.2 768.5 290.2 766.5 294.8 767.2 300.5 768.8 303.5 772.2 307.2 777.2 310.8 785.5 315.2 799.8 320.2 819.2 324.8ZM848.2 218.8L852.2 266.5 869.2 261.5 879.2 257.2 886.5 252.5 892.5 245.8 893.8 242.2 893.8 237.8 892.8 235.2 888.5 230.2 885.2 227.8 877.5 224.2 868.8 221.5 858.2 219.5ZM801.5 181.5L797.8 185.8 796.5 190.2 797.5 195.5 799.8 199.2 803.8 202.8 810.2 206.5 818.2 209.5 828.8 212.2 831.8 173.8 825.8 173.8 813.8 175.8 807.8 177.8ZM841.5 140.5L843.8 169.8 852.8 166.5 856.8 163.5 860.2 157.8 860.5 152.2 858.5 147.5 854.5 143.8 850.2 141.8ZM817.8 97.2L813.5 100.2 811.2 105.2 811.2 108.8 814.8 118.2 818.5 121.5 819.5 127.2 821.5 131.2 825.5 134.5 834.8 137.8 836.5 119.2 832.8 121.2 830.5 121.5 828.2 120.8 825.8 118.8 824.8 116.5 825.5 108.8 824.8 98.8 823.8 97.5 822.2 96.8ZM840.2 96.5L838.8 97.8 838.2 104.5 839.5 118.5 846.5 118.5 852.2 116.5 853.5 113.8 855.5 111.8 856.2 109.8 855.8 104.2 854.2 100.5 852.2 98.2 849.2 96.2 842.2 95.8Z"/><path fill="#aab0d6" fill-rule="evenodd" d="M857.8 334.2L858.8 344.8 887.8 344.8 883.2 341.5 876.2 338.2 864.5 334.8ZM823.2 275.2L817.5 275.2 804.2 277.2 792.5 280.5 783.2 285.2 778.5 289.2 775.5 294.5 775.5 299.5 777.2 303.5 782.5 309.2 792.5 315.2 805.8 320.2 819.2 323.8ZM848.2 220.2L851.8 264.5 852.5 265.2 866.8 259.8 878.2 253.2 883.8 246.8 885.5 242.5 885.5 238.8 883.2 233.8 876.2 227.8 862.8 222.5 853.5 220.5ZM831.8 174.5L821.5 175.5 814.5 177.5 809.5 179.8 804.5 183.8 802.5 186.8 801.5 190.2 801.8 194.2 803.5 197.8 808.2 202.8 814.8 206.8 828.8 211.5ZM841.5 140.8L844.2 169.5 850.8 166.5 855.5 162.5 857.8 157.8 858.2 152.8 856.2 147.8 853.2 144.8 848.8 142.5ZM818.5 98.2L815.5 99.8 813.2 102.8 812.5 104.8 812.5 109.2 813.2 111.2 817.2 117.8 820.8 118.5 822.8 119.8 822.2 128.2 824.2 131.8 828.5 135.2 835.2 137.5 836.5 119.5 833.5 121.2 830.5 121.8 828.5 121.5 824.5 118.8 824.2 116.2 825.5 106.8 824.5 99.2 822.2 97.8ZM847.5 96.8L841.2 97.2 839.2 98.5 838.5 100.5 838.2 108.8 838.8 109.2 839.5 118.5 845.5 118.2 849.5 117.2 852.5 114.8 852.8 113.2 854.2 111.8 854.8 109.5 854.2 103.5 852.2 100.2Z"/><path fill="#969dcc" fill-rule="evenodd" d="M858.2 335.8L858.8 344.8 880.2 344.8 876.2 341.8 870.8 339.2 864.2 336.8ZM789.2 286.5L785.2 290.5 782.8 295.5 782.8 299.8 786.2 306.2 790.8 310.5 795.5 313.5 807.2 318.8 819.2 322.8 823.2 276.2 817.2 276.5 804.8 279.2 795.8 282.5ZM848.2 221.5L852.2 263.8 863.8 258.5 871.8 253.2 876.5 247.8 877.8 245.2 878.5 240.2 877.8 237.5 875.5 233.5 869.5 228.5 862.8 225.2 856.8 223.2ZM831.8 175.2L821.5 176.8 814.8 179.5 808.2 184.8 805.8 190.2 806.5 195.8 808.2 198.8 811.5 202.5 821.2 208.2 828.5 210.8ZM841.5 141.5L843.8 168.8 850.5 165.5 853.8 162.2 855.8 157.8 856.2 153.8 854.5 148.8 850.8 144.8 847.2 142.8ZM836.5 119.8L831.2 122.2 826.5 121.8 825.2 123.2 824.2 125.8 824.2 127.8 825.5 131.2 828.5 134.2 835.2 137.2ZM819.8 98.8L817.8 99.5 814.8 102.2 813.5 105.2 813.5 108.8 815.2 112.5 818.5 116.5 822.8 116.2 824.5 114.2 825.2 104.2 824.2 99.8 822.5 98.8ZM846.8 97.8L844.8 97.5 843.8 98.2 841.2 98.2 838.8 100.2 838.5 108.8 839.5 117.5 844.8 117.8 848.8 116.5 851.5 114.2 853.2 111.2 853.2 104.2 851.5 101.2Z"/><path fill="#7f88c1" fill-rule="evenodd" d="M858.2 337.8L858.8 344.8 873.8 344.8 865.5 339.8 861.2 338.2ZM823.2 277.5L819.5 277.5 812.2 279.2 799.5 284.2 795.5 286.8 791.5 290.8 789.2 296.2 789.8 302.2 792.2 306.2 796.2 310.2 803.8 315.2 819.5 321.5ZM848.5 223.2L851.8 262.2 862.5 256.2 868.8 250.5 871.8 245.2 872.2 239.5 869.8 234.5 864.5 229.5 855.8 225.2ZM831.8 175.8L824.8 177.2 817.2 180.5 811.8 185.2 809.5 190.5 809.8 195.2 812.8 200.5 819.5 205.8 828.8 210.2ZM841.5 142.2L843.8 168.5 848.8 165.5 852.5 161.5 854.2 157.2 854.2 152.8 852.2 148.2 849.2 145.2 844.8 142.8ZM836.5 120.2L832.5 122.2 827.8 123.2 826.2 125.8 826.2 128.8 827.5 131.8 830.8 134.8 834.8 136.8ZM822.8 99.8L819.5 99.8 817.5 100.8 815.5 102.8 814.5 105.2 814.5 108.8 815.5 111.2 820.2 115.5 823.8 114.2 824.8 111.2 824.8 102.8 824.2 100.8ZM842.2 98.5L839.5 99.8 838.8 102.2 838.5 108.8 839.2 115.5 840.8 116.8 845.5 116.8 848.5 115.5 851.2 112.8 852.5 109.8 852.5 105.8 851.2 102.5 848.5 99.8 845.2 98.5Z"/><path fill="#6671b5" fill-rule="evenodd" d="M858.5 339.8L858.8 344.8 867.8 344.8 864.2 342.2ZM823.2 278.5L813.2 280.8 803.8 285.2 798.2 289.8 794.8 296.2 795.5 302.5 797.5 306.2 800.8 309.8 808.5 315.2 819.2 320.2ZM848.5 225.2L851.8 260.2 859.5 254.8 863.5 250.8 866.5 245.2 866.8 240.5 865.5 236.5 860.8 231.2 852.2 226.2ZM831.8 176.8L825.8 178.2 818.8 181.8 814.8 185.8 812.8 190.5 813.2 195.5 816.2 200.8 819.8 204.2 828.5 209.2 829.2 208.2ZM841.5 142.5L843.8 167.8 847.8 165.2 850.5 162.2 852.5 157.2 852.5 153.2 850.8 148.8 848.2 145.8ZM836.5 120.5L829.2 123.8 827.8 125.8 827.8 129.5 829.2 132.2 831.2 134.2 835.2 136.5ZM820.5 100.5L816.5 102.8 815.2 105.8 815.2 108.2 815.8 110.2 818.2 112.8 822.2 114.2 823.8 113.2 824.5 111.5 824.8 104.2 823.8 101.2ZM841.5 99.5L840.5 99.8 839.2 101.8 838.8 111.8 839.2 114.2 840.2 115.5 843.8 116.2 847.8 114.8 850.5 112.2 851.5 109.8 851.5 105.5 850.2 102.8 847.2 100.2Z"/><path fill="#3a48a0" fill-rule="evenodd" d="M858.5 342.8L858.8 344.8 862.5 344.8ZM822.8 280.2L814.2 282.8 807.2 286.8 802.5 291.5 800.2 296.8 800.5 301.8 803.8 307.8 809.8 313.2 819.2 318.5 819.8 317.8ZM848.8 227.8L851.2 256.8 851.8 257.5 859.5 249.5 861.5 244.8 861.5 240.2 859.8 236.2 856.5 232.2 852.8 229.5ZM831.5 177.8L827.8 178.8 820.2 183.5 817.5 186.8 815.8 191.8 816.8 197.2 818.8 200.5 822.2 203.8 828.8 208.2ZM841.5 143.2L843.5 166.5 844.2 166.8 848.5 162.8 850.8 157.8 850.8 153.2 849.5 149.5 847.5 146.8ZM836.5 120.8L831.2 123.8 829.2 126.8 829.2 129.2 830.5 132.2 834.8 135.8ZM821.5 101.2L818.5 102.2 816.2 105.2 816.2 108.8 818.8 112.2 822.5 113.2 823.8 112.2 824.5 110.5 824.8 104.8 823.8 102.2ZM843.5 100.2L839.8 101.5 838.8 105.5 839.5 113.5 840.2 114.5 842.2 115.2 845.5 114.8 848.5 113.2 850.8 108.5 850.5 105.5 849.5 103.5 847.5 101.5Z"/></g><g clip-path="url(#clip967)"><path fill="#fef3f3" fill-rule="evenodd" d="M1071.2 331.8L1068.5 330.8 1046.2 333.2 1032.5 335.8 1025.8 338.5 1023.5 341.5 1023.2 344.8 1069.8 344.8ZM1109.2 271.5L1114.5 328.5 1117.5 326.8 1123.5 325.5 1131.5 322.5 1143.2 316.5 1153.2 309.2 1158.8 303.2 1162.8 296.8 1165.8 286.8 1166.2 279.5 1165.5 276.5 1164.5 277.2 1159.5 275.5 1150.2 273.8 1117.8 270.8 1110.8 270.8ZM1033.5 220.8L1031.5 224.8 1031.5 229.5 1032.5 234.2 1037.8 244.8 1042.5 250.5 1047.8 255.2 1054.8 259.8 1062.2 263.5 1074.2 267.2 1077.2 268.8 1082.2 214.2 1073.2 214.2 1050.8 216.2 1038.8 218.5ZM1137.2 162.2L1137.2 163.8 1135.5 164.8 1115.5 162.8 1098.8 162.5 1103.5 212.5 1114.2 209.8 1121.5 206.5 1127.8 202.2 1134.8 194.8 1139.8 184.5 1140.8 180.8 1140.8 176.8 1142.2 173.8 1141.5 167.8ZM1065.8 122.2L1060.2 126.8 1058.8 129.5 1059.2 133.2 1062.8 137.5 1061.8 138.5 1061.8 141.8 1063.2 144.5 1067.5 150.5 1073.2 155.8 1078.2 158.8 1087.2 161.5 1090.8 123.2 1086.5 124.2 1084.2 123.8 1080.8 122.5 1078.8 119.8 1071.2 120.2ZM1105.5 96.8L1098.5 95.8 1095.5 96.8 1093.8 99.2 1093.5 106.8 1094.8 121.2 1095.8 122.5 1100.8 121.5 1103.5 119.5 1105.2 117.2 1109.8 115.5 1111.8 112.2 1112.5 109.5 1111.8 103.8 1109.5 99.8Z"/><path fill="#fce3e4" fill-rule="evenodd" d="M1071.2 333.2L1065.8 333.5 1055.8 337.2 1048.5 341.5 1044.8 344.8 1069.8 344.8ZM1111.8 272.2L1109.2 272.5 1114.2 326.8 1114.8 327.2 1116.8 325.5 1125.8 321.5 1130.5 318.5 1139.5 310.5 1143.5 305.2 1145.8 300.5 1146.8 296.5 1146.8 292.2 1144.2 286.2 1140.8 282.8 1136.8 280.2 1123.8 274.8ZM1082.2 215.5L1077.8 215.5 1068.5 217.8 1056.8 222.8 1053.2 225.5 1050.2 228.8 1047.8 235.2 1048.2 239.8 1049.8 244.8 1055.2 252.8 1062.8 259.8 1076.8 267.5 1077.5 266.5ZM1098.8 163.2L1103.5 211.8 1114.2 207.8 1119.5 203.8 1122.5 200.5 1125.2 196.5 1127.8 190.2 1128.8 185.5 1128.8 180.8 1126.2 174.2 1123.2 170.8 1119.8 168.5 1111.5 164.8 1103.5 163.2ZM1077.5 121.2L1074.2 122.8 1070.2 127.8 1069.2 133.8 1069.2 141.5 1070.8 146.8 1075.2 153.8 1080.2 158.2 1087.2 160.8 1090.8 123.5 1086.8 124.5 1077.8 123.5 1076.8 122.5ZM1099.2 97.8L1095.5 98.5 1094.2 100.2 1093.5 102.8 1094.8 121.2 1095.5 122.2 1098.2 122.2 1101.5 120.5 1104.2 116.8 1107.5 113.8 1109.2 110.2 1109.2 105.8 1107.8 102.8 1105.2 100.2Z"/><path fill="#fad3d5" fill-rule="evenodd" d="M1070.8 335.5L1067.8 335.8 1064.2 337.8 1056.2 344.8 1069.8 344.8ZM1109.5 274.2L1114.5 325.5 1123.5 318.8 1127.5 314.8 1131.2 309.8 1134.5 302.2 1134.8 294.8 1131.8 287.5 1126.8 282.2 1118.5 276.8 1112.8 274.5ZM1082.2 216.8L1076.5 218.2 1066.2 224.2 1060.2 231.2 1058.2 237.5 1058.8 244.8 1063.5 254.2 1069.5 260.5 1077.5 266.2ZM1098.8 163.8L1103.2 209.8 1103.8 211.2 1111.2 207.5 1116.8 201.8 1120.5 194.5 1121.8 184.8 1120.8 179.5 1118.8 175.2 1113.8 169.5 1106.2 165.2 1101.8 163.8ZM1090.8 123.8L1080.2 126.5 1076.8 130.2 1074.8 134.8 1074.2 138.5 1074.5 144.8 1077.8 153.2 1081.8 157.5 1087.2 160.5ZM1096.2 99.5L1094.2 101.8 1093.5 106.8 1094.8 121.2 1095.5 121.8 1097.8 121.8 1100.2 120.8 1102.5 118.5 1106.2 109.8 1106.2 106.8 1104.8 103.8 1101.8 100.8 1099.2 99.5Z"/><path fill="#f8c0c4" fill-rule="evenodd" d="M1070.5 338.2L1067.8 339.2 1062.5 344.8 1069.8 344.8ZM1109.5 276.2L1114.2 323.5 1120.2 317.5 1123.8 312.5 1126.8 305.8 1127.8 298.8 1126.8 292.8 1122.8 285.5 1115.2 278.5ZM1081.8 218.5L1074.8 222.2 1070.2 226.5 1065.8 233.5 1064.5 239.5 1065.2 246.5 1068.2 253.8 1072.2 259.2 1077.5 264.2ZM1099.2 164.5L1103.5 210.5 1108.8 207.2 1113.8 201.5 1116.8 194.2 1117.5 185.2 1115.5 177.5 1112.2 172.2 1106.5 167.2 1102.5 165.2ZM1090.8 124.2L1083.2 127.2 1080.8 129.5 1078.8 133.2 1077.5 138.2 1077.5 145.2 1079.2 151.2 1081.8 155.5 1087.2 159.8ZM1098.2 100.5L1096.5 100.5 1094.5 102.2 1093.5 105.8 1094.8 121.2 1095.5 121.5 1098.5 121.2 1101.5 118.8 1104.2 110.5 1104.2 107.8 1102.8 104.2 1100.8 101.8Z"/><path fill="#f6abb0" fill-rule="evenodd" d="M1070.2 341.5L1066.8 344.8 1069.8 344.8ZM1109.8 278.8L1113.8 321.2 1118.8 314.2 1120.8 310.2 1122.5 304.2 1122.8 299.5 1121.8 293.5 1119.2 287.5 1112.8 280.2ZM1081.8 220.5L1078.5 222.5 1073.8 227.5 1070.5 233.5 1069.2 238.5 1069.2 245.2 1070.8 251.5 1072.8 255.5 1077.8 262.2ZM1099.2 165.2L1103.2 209.8 1108.5 205.5 1112.5 199.2 1114.2 193.2 1114.5 186.5 1112.8 178.8 1109.2 172.2 1104.2 167.5ZM1090.8 124.5L1086.2 126.8 1083.5 129.2 1081.2 133.5 1079.5 141.2 1079.8 146.5 1081.5 152.2 1083.5 155.5 1087.5 159.2ZM1098.2 101.5L1095.2 102.2 1093.8 105.2 1094.8 120.8 1095.5 121.2 1098.2 120.8 1100.8 118.8 1103.2 111.2 1102.8 107.2 1101.5 104.2Z"/><path fill="#f3949a" fill-rule="evenodd" d="M1110.2 281.8L1113.5 318.5 1118.2 307.8 1118.8 304.5 1118.8 297.5 1117.2 291.2 1113.2 284.2ZM1081.5 223.2L1078.2 226.2 1075.5 230.2 1073.2 236.2 1072.5 239.8 1072.5 245.2 1073.5 250.2 1077.8 259.5ZM1099.2 166.2L1103.2 208.8 1107.2 204.8 1109.8 200.5 1111.5 195.5 1112.2 187.5 1111.2 181.2 1108.2 174.2 1102.8 168.2ZM1090.5 125.5L1087.8 126.8 1084.5 130.5 1082.8 133.8 1081.5 139.2 1081.5 146.5 1082.2 149.5 1084.5 154.8 1087.5 158.2ZM1097.5 102.2L1094.8 103.5 1093.8 106.2 1094.8 120.2 1095.8 120.8 1098.8 120.2 1100.2 118.8 1101.8 115.2 1102.5 111.5 1101.2 105.2 1099.2 102.8Z"/><path fill="#f17a81" fill-rule="evenodd" d="M1110.5 285.2L1113.2 314.8 1115.8 304.8 1115.8 298.2 1113.8 290.5ZM1081.2 226.2L1077.2 232.5 1075.2 240.8 1075.5 247.5 1078.2 256.5ZM1099.2 167.2L1103.2 207.5 1106.5 203.5 1108.5 199.5 1109.8 194.5 1110.2 186.8 1109.2 181.2 1106.2 174.2 1103.5 170.5ZM1090.5 126.2L1086.2 130.2 1083.8 135.5 1082.8 140.5 1083.5 149.5 1085.8 155.2 1087.5 157.2ZM1096.2 103.2L1094.2 105.8 1093.8 110.5 1094.8 119.2 1095.8 120.2 1097.5 120.2 1099.8 118.5 1101.2 115.8 1101.8 109.2 1100.2 104.8 1098.2 103.2Z"/><path fill="#ee5e66" fill-rule="evenodd" d="M1110.8 290.2L1112.8 309.2 1113.5 300.5 1112.5 294.5ZM1080.8 230.2L1078.8 234.5 1077.5 240.8 1077.5 246.5 1078.5 252.2ZM1099.5 168.5L1103.2 206.2 1107.5 197.8 1108.5 192.2 1108.5 187.2 1106.2 177.5 1103.2 172.2ZM1090.5 126.8L1086.2 132.5 1084.2 139.8 1084.5 148.8 1086.2 153.8 1087.8 156.5ZM1096.2 103.8L1095.2 104.5 1093.8 108.2 1094.5 117.5 1095.8 119.5 1097.8 119.5 1099.2 118.5 1100.8 115.5 1101.5 110.5 1100.2 105.8 1098.5 104.2Z"/><path fill="#ea3e48" fill-rule="evenodd" d="M1099.5 169.8L1102.8 205.2 1104.8 201.5 1106.5 196.2 1107.2 190.2 1106.8 185.5 1103.8 175.5ZM1090.5 127.8L1087.2 132.8 1085.2 140.8 1085.5 148.5 1087.8 155.2ZM1096.2 104.5L1094.5 106.5 1093.8 110.5 1094.5 117.2 1095.8 118.8 1097.2 119.2 1098.8 118.2 1100.5 115.2 1100.8 109.2 1099.5 105.8 1097.8 104.5Z"/><path fill="#e40613" fill-rule="evenodd" d="M1099.8 171.8L1102.8 203.2 1105.5 194.2 1105.5 185.8 1103.2 177.2ZM1090.2 129.5L1087.8 133.8 1086.2 141.2 1086.2 146.5 1087.8 153.2ZM1096.2 105.2L1094.2 108.8 1094.2 114.2 1094.8 117.2 1097.2 118.5 1099.2 116.8 1100.2 114.8 1100.5 109.8 1099.5 106.8 1097.8 105.2Z"/><path fill="#f5f6fa" fill-rule="evenodd" d="M1114.8 331.8L1116.2 344.8 1167.5 344.8 1167.2 341.5 1165.2 338.8 1161.8 337.2 1154.5 335.2 1127.2 331.5 1117.5 330.8ZM1025.5 276.8L1025.2 286.5 1026.5 293.2 1029.2 299.5 1033.5 305.8 1041.8 313.8 1049.8 319.2 1057.5 323.2 1068.8 326.8 1071.5 328.5 1076.8 271.5 1074.8 270.8 1069.2 270.8 1052.8 272.2 1035.8 274.5 1026.5 277.2ZM1108.8 268.8L1111.2 267.5 1117.5 266.2 1130.8 261.2 1138.2 257.2 1147.5 250.2 1152.8 244.2 1157.8 235.5 1159.5 228.8 1158.8 222.5 1155.5 219.8 1143.2 216.8 1119.5 214.5 1103.8 214.2ZM1052.2 162.5L1048.2 168.2 1047.5 172.5 1048.8 176.5 1049.5 183.8 1053.5 193.8 1057.5 199.2 1066.2 206.5 1072.8 209.8 1082.5 212.5 1087.2 162.5 1072.2 162.8 1056.5 164.8 1053.2 164.5ZM1125.5 123.8L1118.5 120.5 1107.5 119.2 1107.2 120.5 1101.2 122.8 1097.2 123.5 1095.2 122.8 1098.8 161.5 1104.8 160.2 1112.2 157.2 1118.5 152.5 1124.5 145.8 1127.2 141.5 1127.2 139.2 1126.2 137.2 1129.2 134.5 1130.5 131.5 1129.2 127.2ZM1078.5 84.5L1074.8 86.2 1072.5 88.8 1071.8 90.8 1071.8 93.2 1073.2 96.2 1078.8 101.2 1078.8 103.8 1076.8 110.5 1076.5 114.5 1083.5 122.2 1085.2 122.8 1090.5 122.5 1091.2 121.2 1092.2 107.2 1093.2 106.8 1093.2 96.5 1089.2 88.2 1087.2 86.2 1083.5 84.5Z"/><path fill="#e9eaf4" fill-rule="evenodd" d="M1114.8 333.2L1116.2 344.8 1143.5 344.8 1138.2 340.5 1130.8 336.8 1117.8 332.8ZM1076.8 272.5L1072.5 272.5 1066.8 273.8 1058.2 276.8 1052.2 279.8 1045.2 285.8 1042.5 291.8 1042.5 297.2 1043.5 301.2 1045.2 304.8 1049.5 311.2 1058.8 319.8 1063.5 322.8 1068.8 325.2 1071.2 327.2 1071.8 326.8ZM1103.8 215.5L1108.5 266.5 1109.2 267.5 1111.5 265.8 1115.2 264.8 1122.5 261.2 1131.2 254.8 1138.2 246.5 1140.8 240.5 1141.5 235.8 1140.5 231.5 1136.8 226.5 1132.2 223.2 1118.8 217.8 1108.5 215.5ZM1087.2 163.2L1082.8 163.2 1076.8 164.5 1068.5 168.2 1062.2 174.2 1059.8 180.2 1059.8 186.5 1060.8 191.2 1065.8 201.2 1072.8 207.8 1082.2 211.8 1082.8 209.8ZM1109.8 120.8L1110.2 122.5 1109.5 123.2 1095.2 123.2 1098.8 160.8 1103.8 159.5 1111.2 154.8 1115.5 149.5 1118.5 142.8 1119.2 136.2 1118.2 128.5 1114.5 123.5ZM1085.5 95.5L1083.2 97.2 1080.8 101.8 1078.8 109.2 1078.5 114.5 1081.2 119.2 1083.8 121.8 1087.5 122.8 1090.8 122.2 1092.2 107.2 1093.2 106.8 1093.2 99.5 1089.8 96.2 1088.5 95.5Z"/><path fill="#dcdeee" fill-rule="evenodd" d="M1115.2 335.5L1116.2 344.8 1131.2 344.8 1122.5 337.8 1118.5 335.8ZM1076.5 274.2L1071.8 275.2 1061.8 281.2 1055.5 288.5 1053.2 296.2 1053.8 303.2 1057.5 311.5 1061.2 316.5 1071.5 325.5ZM1103.8 216.8L1108.5 266.2 1117.8 260.2 1124.8 253.2 1129.5 243.8 1129.8 236.2 1126.5 229.2 1120.8 223.8 1112.5 219.2 1107.2 217.2ZM1087.2 163.8L1084.8 163.8 1080.5 165.2 1073.5 169.5 1069.5 174.2 1067.5 178.2 1066.2 183.8 1066.5 191.5 1069.5 200.2 1075.2 207.2 1082.2 211.2 1082.8 209.8ZM1095.2 123.5L1098.8 160.5 1104.8 157.5 1109.8 152.2 1113.2 143.8 1113.2 136.8 1111.2 131.2 1106.5 126.2 1102.8 124.5ZM1088.8 97.5L1085.5 97.8 1083.5 99.5 1081.2 103.8 1079.5 111.2 1079.8 115.2 1081.8 119.2 1084.2 121.5 1087.2 122.5 1089.8 122.2 1091.2 121.2 1092.2 107.2 1093.2 106.8 1093.2 101.2 1090.5 98.2Z"/><path fill="#cdd1e7" fill-rule="evenodd" d="M1115.5 338.2L1116.2 344.8 1124.2 344.8 1119.8 340.2ZM1076.5 276.2L1071.8 278.2 1066.2 283.2 1061.5 290.5 1059.8 296.5 1059.8 302.2 1062.2 310.5 1065.5 316.2 1071.8 323.5ZM1104.2 218.5L1108.5 264.2 1117.2 256.2 1119.5 252.8 1122.5 245.5 1122.8 237.5 1121.5 233.2 1118.2 227.8 1111.8 222.2ZM1086.8 164.5L1081.2 166.5 1075.5 171.5 1071.5 178.5 1070.2 184.2 1070.2 191.8 1071.8 198.5 1075.2 204.5 1078.5 207.8 1082.5 210.5ZM1095.2 124.2L1098.8 159.8 1103.8 156.5 1106.8 152.8 1109.2 147.5 1109.8 139.2 1108.5 133.8 1105.8 129.2 1101.2 125.5ZM1087.2 98.5L1084.5 99.8 1082.2 103.2 1080.5 108.8 1080.5 114.8 1082.5 119.2 1085.8 121.8 1089.8 121.8 1091.2 121.2 1092.2 107.2 1093.2 106.8 1093.2 102.5 1091.2 99.8Z"/><path fill="#bdc2df" fill-rule="evenodd" d="M1115.8 341.5L1116.2 344.8 1119.8 344.8ZM1076.2 278.8L1073.5 280.2 1068.2 286.5 1066.2 290.5 1064.5 296.5 1064.5 304.5 1065.5 308.8 1068.5 315.5 1072.2 321.2ZM1104.2 220.5L1108.2 262.2 1113.5 255.8 1115.8 251.8 1117.8 245.5 1118.2 241.2 1117.5 236.5 1114.2 229.2 1109.8 224.2ZM1086.8 165.2L1081.8 167.8 1077.5 172.5 1074.2 179.2 1072.8 185.5 1072.8 192.2 1074.8 200.2 1077.5 204.8 1082.8 209.8ZM1095.2 124.5L1098.5 159.2 1103.5 154.8 1105.2 152.2 1107.2 146.2 1107.5 141.5 1106.5 135.5 1104.2 130.5 1100.8 126.8ZM1086.8 99.5L1084.5 100.8 1082.5 103.8 1081.2 107.8 1080.8 113.2 1082.8 118.8 1084.8 120.8 1089.8 121.5 1091.2 120.8 1092.2 107.2 1093.2 106.8 1093.2 103.5 1089.8 99.8Z"/><path fill="#aab0d6" fill-rule="evenodd" d="M1075.8 281.8L1071.8 286.2 1069.5 290.8 1067.8 297.5 1068.2 306.8 1072.5 318.5ZM1104.5 223.2L1108.2 259.5 1113.5 248.8 1114.2 239.2 1112.8 233.8 1110.8 229.8 1108.2 226.2ZM1086.8 166.2L1083.8 167.8 1078.8 173.8 1076.5 178.8 1074.8 187.5 1075.2 194.2 1076.5 199.5 1079.5 205.2 1082.8 208.8ZM1095.5 125.2L1098.2 156.5 1098.8 158.2 1101.8 154.8 1104.2 150.5 1105.2 146.8 1105.5 141.2 1104.8 136.8 1102.2 130.5 1099.2 127.2ZM1087.2 100.2L1084.2 102.2 1082.5 105.2 1081.5 108.5 1081.5 114.5 1083.2 118.5 1085.2 120.5 1089.5 121.2 1091.2 120.2 1092.2 107.2 1093.2 106.8 1093.2 104.5 1090.2 100.8Z"/><path fill="#969dcc" fill-rule="evenodd" d="M1075.5 285.5L1071.8 292.2 1070.5 298.8 1070.8 307.2 1072.8 314.8ZM1104.8 226.2L1107.8 256.5 1110.8 247.8 1111.2 239.5 1109.2 232.5ZM1086.8 167.2L1084.5 168.8 1081.2 172.8 1078.8 177.5 1076.8 185.5 1076.8 193.8 1077.5 197.5 1079.5 202.8 1082.8 207.5ZM1095.5 126.2L1098.5 157.2 1101.2 153.8 1102.8 150.2 1103.8 145.5 1103.8 140.5 1103.2 136.8 1100.5 130.5 1097.5 127.2ZM1087.2 100.8L1084.8 102.2 1082.8 105.5 1081.8 109.2 1081.8 113.8 1083.5 118.2 1085.5 120.2 1089.2 120.8 1091.2 119.5 1092.2 107.2 1093.2 106.8 1093.2 105.8 1090.2 101.5Z"/><path fill="#7f88c1" fill-rule="evenodd" d="M1075.2 290.2L1072.8 298.5 1073.2 309.2ZM1105.2 230.2L1107.5 252.2 1108.8 242.2 1107.8 236.2ZM1086.5 168.5L1083.8 171.2 1080.5 177.2 1078.2 187.2 1078.8 197.2 1080.5 202.2 1082.8 206.2ZM1095.5 126.8L1098.2 156.5 1101.8 149.2 1102.5 141.2 1100.5 133.2 1097.8 128.8ZM1087.2 101.5L1084.2 103.8 1082.8 106.5 1082.2 113.2 1084.5 118.8 1086.5 120.2 1088.5 120.5 1091.2 118.8 1092.2 107.2 1093.2 106.8 1090.2 102.2Z"/><path fill="#6671b5" fill-rule="evenodd" d="M1086.5 169.8L1083.8 173.2 1081.8 177.2 1079.5 187.2 1080.2 197.5 1083.2 205.2ZM1095.5 127.8L1098.2 155.2 1100.8 148.5 1101.2 140.2 1099.2 132.8ZM1086.8 102.2L1083.5 105.8 1082.5 112.8 1084.5 118.2 1086.8 119.8 1089.2 119.8 1091.5 117.5 1092.5 106.2 1089.8 102.5Z"/><path fill="#3a48a0" fill-rule="evenodd" d="M1086.2 171.8L1082.8 177.8 1080.8 186.5 1080.8 194.2 1083.2 203.2ZM1095.8 129.5L1098.2 153.5 1099.8 148.2 1100.2 141.5 1098.5 134.2ZM1086.8 102.8L1083.8 106.2 1082.8 112.5 1084.8 117.8 1088.2 119.5 1091.5 117.2 1092.2 106.5 1089.8 103.2Z"/></g><g clip-path="url(#clip805)"><rect x="805" y="220" width="159" height="125" fill="#fff"/><path fill="#fef3f3" fill-rule="evenodd" d="M894.8 260.2L889.5 262.8 885.8 266.8 883.2 271.5 879.2 282.5 878.8 298.2 879.8 308.5 881.5 314.5 884.2 320.2 886.2 323.2 890.8 327.5 894.5 329.2 899.5 329.2 904.2 326.8 909.8 320.2 913.2 312.5 914.2 308.2 914.2 303.8 911.5 291.2 911.5 277.5 910.2 270.5 908.2 266.8 904.5 262.8 899.2 260.2Z"/><path fill="#fce3e4" fill-rule="evenodd" d="M894.8 271.8L881.2 280.8 879.5 284.2 879.2 294.2 880.8 297.8 885.2 302.8 887.2 308.8 889.5 313.2 894.2 317.2 898.8 317.5 901.5 316.2 905.2 312.2 907.2 307.8 908.5 302.2 911.2 297.2 911.2 283.5 909.8 280.2 902.8 273.8 898.8 271.8Z"/><path fill="#fad3d5" fill-rule="evenodd" d="M880.2 284.5L879.5 290.2 880.2 294.5 882.5 296.8 887.8 299.2 893.8 300.2 903.5 299.5 908.2 297.5 910.8 294.5 910.5 283.8 908.2 281.2 903.5 279.2 899.5 278.5 889.2 279.2 882.2 281.8Z"/><path fill="#f8c0c4" fill-rule="evenodd" d="M880.5 285.5L880.5 293.2 883.5 295.8 887.8 297.2 894.5 297.8 903.8 297.2 907.8 295.8 910.5 292.8 910.5 286.5 909.8 284.5 907.8 282.5 904.5 281.2 900.2 280.5 889.2 280.8 882.8 282.8Z"/><path fill="#f6abb0" fill-rule="evenodd" d="M880.8 286.8L881.2 292.5 884.2 294.8 889.5 296.2 897.8 296.5 905.5 295.5 907.8 294.5 909.5 292.8 910.2 290.5 909.8 286.5 907.5 283.5 901.2 281.8 888.2 282.2 883.2 283.8Z"/><path fill="#f3949a" fill-rule="evenodd" d="M881.5 287.5L881.5 290.8 882.8 292.8 889.8 295.2 896.8 295.5 904.8 294.5 908.5 292.5 909.5 289.5 909.2 287.2 907.5 284.8 900.8 282.8 890.5 282.8 886.8 283.5 883.5 284.8Z"/><path fill="#f17a81" fill-rule="evenodd" d="M882.5 288.2L882.5 290.2 884.5 292.5 888.2 293.8 893.8 294.5 901.5 294.2 905.5 293.2 907.8 291.5 908.5 289.5 908.2 287.5 906.5 285.5 900.8 283.8 888.5 284.2 884.2 285.8Z"/><path fill="#ee5e66" fill-rule="evenodd" d="M884.2 288.2L884.2 289.8 885.5 291.5 890.8 293.2 900.5 293.2 904.5 292.2 906.8 290.2 906.8 288.2 905.5 286.5 900.2 284.8 889.5 285.2 885.2 286.8Z"/><path fill="#ea3e48" fill-rule="evenodd" d="M886.8 288.5L886.8 289.5 888.8 291.2 894.8 292.2 901.5 291.5 904.5 289.5 903.5 287.5 899.8 286.2 891.8 286.2 889.2 286.8Z"/><path fill="#f5f6fa" fill-rule="evenodd" d="M871.2 271.5L866.8 271.8 860.5 274.5 856.8 277.5 854.8 281.2 855.5 283.8 859.8 287.8 859.5 290.8 855.2 294.8 855.2 297.8 859.2 302.5 863.5 304.8 867.2 305.8 872.2 305.2 876.8 301.5 876.8 294.8 878.5 289.8 878.2 284.5 876.8 281.5 876.8 274.2 873.8 272.2ZM922.2 265.5L919.2 267.2 915.2 273.5 915.2 280.5 913.5 282.2 912.5 284.5 912.2 290.5 914.5 295.5 914.8 291.8 921.8 291.8 922.5 292.5 935.8 326.2 942.8 319.5 947.5 311.5 949.8 302.8 949.5 293.8 945.5 281.2 941.5 274.8 936.8 270.5 931.5 267.2 926.8 265.5Z"/><path fill="#e9eaf4" fill-rule="evenodd" d="M917.2 277.8L915.2 279.2 915.2 281.5 913.5 283.2 912.5 285.5 912.2 289.5 912.8 292.2 914.5 294.8 914.8 291.8 921.8 291.8 927.5 304.8 929.5 302.2 929.5 299.2 926.5 294.2 925.8 280.8 922.5 277.8ZM870.2 277.2L866.5 278.8 864.2 282.2 864.2 293.8 865.2 296.8 867.2 298.8 869.2 299.8 873.2 299.8 876.8 297.2 876.8 293.8 878.2 290.5 878.2 286.2 876.8 282.8 876.8 279.2 873.5 277.2Z"/><path fill="#dcdeee" fill-rule="evenodd" d="M915.5 280.8L912.5 286.8 912.5 290.2 913.5 292.8 914.5 293.8 914.8 291.8 921.8 291.8 923.2 294.8 924.5 291.2 924.5 285.8 923.8 283.8 920.2 280.5 917.8 280.2ZM871.2 279.8L868.8 280.8 866.8 282.8 865.5 286.5 865.5 290.5 868.2 295.8 870.5 297.2 873.8 297.2 876.8 294.8 878.2 287.8 876.8 281.8 874.5 280.2Z"/><path fill="#cdd1e7" fill-rule="evenodd" d="M915.5 282.2L912.8 286.5 912.8 290.5 914.5 293.2 914.8 291.8 921.8 291.8 922.5 293.2 923.5 290.8 923.5 286.5 922.5 284.2 919.5 281.8ZM871.2 281.5L867.8 283.8 866.5 287.2 866.5 289.8 868.8 294.5 871.5 295.8 873.8 295.8 876.8 293.5 877.8 287.2 876.2 282.5 874.5 281.5Z"/><path fill="#bdc2df" fill-rule="evenodd" d="M920.5 283.5L917.2 282.5 915.2 283.2 913.8 285.2 912.8 289.2 914.5 292.8 914.8 291.8 922.2 291.8 922.8 287.2ZM871.5 282.5L868.5 284.5 867.2 288.8 869.2 293.5 871.5 294.8 873.8 294.8 876.8 292.5 877.5 287.2 876.8 284.5 875.2 282.8Z"/><path fill="#aab0d6" fill-rule="evenodd" d="M915.2 283.8L913.2 287.5 913.2 289.8 914.2 291.8 921.2 291.8 922.2 289.8 922.2 287.2 921.2 285.2 918.8 283.5ZM871.8 283.2L869.2 284.8 867.8 288.8 868.8 291.8 870.5 293.5 873.8 294.2 876.8 291.8 877.2 286.8 875.5 283.8Z"/><path fill="#969dcc" fill-rule="evenodd" d="M915.2 284.5L913.5 287.2 913.5 289.8 914.5 291.8 920.5 291.8 921.5 290.2 921.2 286.2 918.8 284.2 916.8 283.8ZM871.8 283.8L868.8 286.5 868.5 289.5 870.5 292.8 874.2 293.5 876.8 291.2 876.8 286.2 874.2 283.8Z"/><path fill="#7f88c1" fill-rule="evenodd" d="M915.5 284.8L913.8 287.2 914.2 290.8 915.2 291.8 919.8 291.8 921.2 289.8 920.5 286.2 918.2 284.5ZM873.2 284.2L870.5 285.2 869.2 287.2 869.2 290.2 869.8 291.5 871.8 292.8 875.2 292.5 876.8 290.2 876.5 286.2 875.2 284.8Z"/><path fill="#6671b5" fill-rule="evenodd" d="M916.5 284.8L915.2 285.5 914.2 287.2 914.2 290.2 915.2 291.8 919.2 291.8 920.8 289.2 920.5 287.2 919.2 285.5ZM872.2 284.8L870.2 286.2 869.5 289.8 870.8 291.8 874.2 292.5 876.5 290.2 876.5 287.2 874.8 285.2Z"/><path fill="#3a48a0" fill-rule="evenodd" d="M915.8 285.5L914.2 287.8 914.2 289.5 915.8 291.8 918.5 291.8 920.2 289.8 920.2 287.5 918.2 285.5ZM872.5 285.2L870.5 286.5 869.8 289.2 871.2 291.5 873.8 292.2 875.8 290.8 876.5 288.2 875.2 285.8Z"/></g>
<circle cx="1080.5" cy="107.1" r="1.3" fill="#e4121b"/><circle cx="1092.4" cy="107.3" r="1.1" fill="#e4121b"/>
<path d="M571,107 h2.5 M577,107 h4 M585.5,107.5 h2.5" stroke="#e88a92" stroke-width="1.6"/><path d="M581.5,106 v3" stroke="#3a48a0" stroke-width="1.6"/>
<rect x="457.4" y="44.8" width="762.8" height="301.5" fill="none" stroke="#0c0a08" stroke-width="3.5"/>
<line x1="711.5" y1="44.8" x2="711.5" y2="346.3" stroke="#0c0a08" stroke-width="3.5"/>
<line x1="965.6" y1="44.8" x2="965.6" y2="346.3" stroke="#0c0a08" stroke-width="3.5"/>
<line x1="474" y1="57.5" x2="553.5" y2="57.5" stroke="#0c0a08" stroke-width="6.3" stroke-linecap="round"/>
<text x="465.3" y="91" font-size="29" text-anchor="start" font-weight="normal" fill="#0c0a08" >500 nm</text>
<rect x="803.4" y="218" width="162.2" height="128.3" fill="none" stroke="#0c0a08" stroke-width="3.5"/>
<line x1="829.8" y1="231.4" x2="864" y2="231.4" stroke="#0c0a08" stroke-width="6" stroke-linecap="round"/>
<text x="807" y="259.9" font-size="28.5" text-anchor="start" font-weight="normal" fill="#0c0a08" >50 nm</text>
<text x="804.8" y="338.5" font-size="30" text-anchor="start" font-weight="normal" fill="#0c0a08" >×</text>
<text x="828.2" y="334.7" font-size="28.5" text-anchor="start" font-weight="normal" fill="#0c0a08" >0.02</text>
<text x="577.5" y="388.9" font-size="32" text-anchor="middle" font-weight="normal" fill="#0c0a08" >t = 15 fs</text>
<text x="834.5" y="381.5" font-size="32" text-anchor="middle" font-weight="normal" fill="#0c0a08" >t = 30 fs</text>
<text x="1109" y="384.6" font-size="32" text-anchor="middle" font-weight="normal" fill="#0c0a08" >t = 45 fs</text>
<defs><linearGradient id="cb" x1="0" y1="0" x2="0" y2="1"><stop offset="0" stop-color="#e30613"/><stop offset="0.08" stop-color="#e30613"/><stop offset="0.5" stop-color="#ffffff"/><stop offset="0.92" stop-color="#3a48a0"/><stop offset="1" stop-color="#3a48a0"/></linearGradient></defs>
<rect x="1234.4" y="197" width="19.2" height="154.3" fill="url(#cb)" stroke="#0c0a08" stroke-width="3.8"/>
<path d="M1243.8,198.8 L1253,198.8 M1243.8,275 L1253,275 M1243.8,347.5 L1253,347.5" stroke="#0c0a08" stroke-width="3"/>
<text x="1264.8" y="210.1" font-size="30" text-anchor="start" font-weight="normal" fill="#0c0a08" >1</text>
<text x="1265.2" y="283.5" font-size="30" text-anchor="start" font-weight="normal" fill="#0c0a08" >0</text>
<text x="1264.9" y="357.9" font-size="30" text-anchor="start" font-weight="normal" fill="#0c0a08" >−1</text>
<text transform="translate(1257,174.4) rotate(-90)" font-size="31.5" fill="#0c0a08">E<tspan font-size="20" dy="6">x</tspan><tspan dy="-6"> (a.u.)</tspan></text>
<text x="426.4" y="484.7" font-size="42" font-weight="bold" fill="#0c0a08">C</text>
<path d="M492.3,865.4 L502.3,865.4 M492.3,742.3 L497.3,742.3 M492.3,619.3 L502.3,619.3 M492.3,496.1 L497.3,496.1 " stroke="#0c0a08" stroke-width="2.9"/>
<path d="M670,865.4 L660,865.4 M670,742.3 L665,742.3 M670,619.3 L660,619.3 M670,496.1 L665,496.1 " stroke="#0c0a08" stroke-width="2.9"/>
<path d="M502.2,865.4 L502.2,855.4 M502.2,496.1 L502.2,506.1 M543.4,865.4 L543.4,860.4 M543.4,496.1 L543.4,501.1 M584.5,865.4 L584.5,855.4 M584.5,496.1 L584.5,506.1 M625.7,865.4 L625.7,860.4 M625.7,496.1 L625.7,501.1 M666.9,865.4 L666.9,855.4 M666.9,496.1 L666.9,506.1 " stroke="#0c0a08" stroke-width="2.9"/>
<path d="M493.5,852.6L494.0,854.4L494.5,855.9L495.0,857.2L495.5,858.2L496.0,859.0L496.5,859.5L497.0,859.8L497.5,859.9L498.0,859.8L498.5,859.6L499.0,859.1L499.5,858.5L500.0,857.8L500.5,856.9L501.0,855.9L501.5,854.8L502.0,853.6L502.5,852.3L503.0,851.0L503.5,849.5L504.0,848.1L504.5,846.5L505.0,845.0L505.5,843.4L506.0,841.9L506.5,840.3L507.0,838.7L507.5,837.0L508.0,835.4L508.5,833.7L509.0,832.0L509.5,830.3L510.0,828.6L510.5,826.8L511.0,825.0L511.5,823.2L512.0,821.4L512.5,819.5L513.0,817.6L513.5,815.7L514.0,813.7L514.5,811.7L515.0,809.7L515.5,807.6L516.0,805.5L516.5,803.4L517.0,801.3L517.5,799.2L518.0,797.0L518.5,794.9L519.0,792.7L519.5,790.6L520.0,788.4L520.5,786.3L521.0,784.2L521.5,782.1L522.0,780.0L522.5,777.9L523.0,775.9L523.5,773.9L524.0,772.0L524.5,770.1L525.0,768.4L525.5,766.7L526.0,765.1L526.5,763.6L527.0,762.2L527.5,761.0L528.0,759.9L528.5,759.0L529.0,758.2L529.5,757.6L530.0,757.2L530.5,756.9L531.0,756.9L531.5,757.1L532.0,757.5L532.5,758.1L533.0,758.9L533.5,759.9L534.0,761.1L534.5,762.5L535.0,764.0L535.5,765.8L536.0,767.7L536.5,769.8L537.0,772.0L537.5,774.4L538.0,777.0L538.5,779.7L539.0,782.7L539.5,785.8L540.0,789.0L540.5,792.5L541.0,796.2L541.5,800.1L542.0,804.2L542.5,808.4L543.0,812.6L543.5,816.8L544.0,820.7L544.5,824.2L545.0,827.3L545.5,829.7L546.0,831.4L546.5,832.1L547.0,831.9L547.5,830.5L548.0,828.2L548.5,825.0L549.0,821.0L549.5,816.5L550.0,811.5L550.5,806.2L551.0,800.8L551.5,795.3L552.0,790.0L552.5,784.9L553.0,780.0L553.5,775.1L554.0,770.3L554.5,765.3L555.0,760.2L555.5,754.8L556.0,749.0L556.5,742.7L557.0,735.9L557.5,728.5L558.0,720.4L558.5,711.8L559.0,703.0L559.5,694.2L560.0,685.7L560.5,677.5L561.0,670.0L561.5,663.3L562.0,657.5L562.5,652.6L563.0,648.5L563.5,645.3L564.0,642.9L564.5,641.4L565.0,640.7L565.5,640.8L566.0,641.6L566.5,643.0L567.0,644.9L567.5,647.2L568.0,650.0L568.5,653.1L569.0,656.3L569.5,659.4L570.0,662.3L570.5,664.8L571.0,666.7L571.5,667.9L572.0,668.0L572.5,667.1L573.0,665.0L573.5,662.1L574.0,658.4L574.5,654.1L575.0,649.5L575.5,644.8L576.0,640.0L576.5,635.4L577.0,631.1L577.5,627.1L578.0,623.5L578.5,620.4L579.0,617.7L579.5,615.7L580.0,614.2L580.5,613.5L581.0,613.5L581.5,614.3L582.0,616.0L582.5,618.4L583.0,621.6L583.5,625.3L584.0,629.6L584.5,634.3L585.0,639.3L585.5,644.6L586.0,650.0L586.5,655.5L587.0,661.1L587.5,667.0L588.0,673.1L588.5,679.7L589.0,686.7L589.5,694.2L590.0,702.3L590.5,711.2L591.0,720.6L591.5,730.2L592.0,739.8L592.5,749.0L593.0,757.6L593.5,765.2L594.0,771.5L594.5,776.3L595.0,779.3L595.5,780.1L596.0,778.6L596.5,775.0L597.0,769.8L597.5,763.2L598.0,755.5L598.5,747.0L599.0,738.0L599.5,728.9L600.0,720.0L600.5,711.5L601.0,703.4L601.5,695.7L602.0,688.3L602.5,681.2L603.0,674.3L603.5,667.5L604.0,660.9L604.5,654.3L605.0,647.8L605.5,641.4L606.0,635.1L606.5,628.9L607.0,622.8L607.5,616.9L608.0,611.1L608.5,605.5L609.0,600.1L609.5,595.0L610.0,590.0L610.5,585.3L611.0,580.8L611.5,576.7L612.0,572.9L612.5,569.5L613.0,566.5L613.5,563.9L614.0,561.8L614.5,560.2L615.0,559.2L615.5,558.7L616.0,558.9L616.5,559.7L617.0,561.1L617.5,563.1L618.0,565.6L618.5,568.6L619.0,572.0L619.5,575.8L620.0,580.0L620.5,584.5L621.0,589.3L621.5,594.6L622.0,600.5L622.5,606.8L623.0,613.9L623.5,621.6L624.0,630.2L624.5,639.6L625.0,649.9L625.5,661.0L626.0,672.7L626.5,684.7L627.0,696.7L627.5,708.6L628.0,720.0L628.5,730.7L629.0,740.7L629.5,749.8L630.0,757.9L630.5,765.0L631.0,770.9L631.5,775.5L632.0,778.8L632.5,780.7L633.0,781.1L633.5,780.3L634.0,778.3L634.5,775.3L635.0,771.5L635.5,767.1L636.0,762.1L636.5,756.7L637.0,751.2L637.5,745.5L638.0,740.0L638.5,734.7L639.0,729.6L639.5,724.8L640.0,720.2L640.5,715.9L641.0,711.9L641.5,708.2L642.0,704.8L642.5,701.7L643.0,698.9L643.5,696.5L644.0,694.3L644.5,692.5L645.0,691.1L645.5,690.0L646.0,689.3L646.5,689.0L647.0,689.1L647.5,689.5L648.0,690.4L648.5,691.6L649.0,693.1L649.5,694.9L650.0,697.1L650.5,699.5L651.0,702.2L651.5,705.1L652.0,708.2L652.5,711.5L653.0,715.0L653.5,718.6L654.0,722.3L654.5,726.2L655.0,730.1L655.5,734.1L656.0,738.1L656.5,742.2L657.0,746.2L657.5,750.3L658.0,754.3L658.5,758.3L659.0,762.2L659.5,766.0L660.0,769.7L660.5,773.3L661.0,776.7L661.5,780.0L662.0,783.1L662.5,786.0L663.0,788.7L663.5,791.1L664.0,793.2L664.5,795.1L665.0,796.7L665.5,798.0L666.0,798.9L666.5,799.5L667.0,799.7L667.5,799.5" fill="none" stroke="#0c0a08" stroke-width="5" stroke-linejoin="round"/>
<path d="M493.5,852.6L494.0,854.4L494.5,855.9L495.0,857.2L495.5,858.2L496.0,859.0L496.5,859.5L497.0,859.8L497.5,859.9L498.0,859.8L498.5,859.6L499.0,859.1L499.5,858.5L500.0,857.8L500.5,856.9L501.0,855.9L501.5,854.8L502.0,853.6L502.5,852.3L503.0,850.9L503.5,849.5L504.0,848.0L504.5,846.5L505.0,845.0L505.5,843.5L506.0,841.9L506.5,840.3L507.0,838.8L507.5,837.1L508.0,835.5L508.5,833.9L509.0,832.2L509.5,830.5L510.0,828.8L510.5,827.0L511.0,825.2L511.5,823.4L512.0,821.6L512.5,819.7L513.0,817.7L513.5,815.7L514.0,813.7L514.5,811.7L515.0,809.5L515.5,807.4L516.0,805.2L516.5,803.0L517.0,800.7L517.5,798.5L518.0,796.2L518.5,793.9L519.0,791.6L519.5,789.3L520.0,787.0L520.5,784.7L521.0,782.5L521.5,780.2L522.0,778.0L522.5,775.8L523.0,773.6L523.5,771.5L524.0,769.5L524.5,767.5L525.0,765.5L525.5,763.7L526.0,762.0L526.5,760.3L527.0,758.8L527.5,757.4L528.0,756.1L528.5,754.9L529.0,753.9L529.5,753.1L530.0,752.4L530.5,751.9L531.0,751.5L531.5,751.4L532.0,751.5L532.5,751.7L533.0,752.2L533.5,752.9L534.0,753.9L534.5,755.0L535.0,756.4L535.5,758.0L536.0,759.9L536.5,762.0L537.0,764.4L537.5,767.1L538.0,770.0L538.5,773.2L539.0,776.6L539.5,780.2L540.0,784.0L540.5,787.9L541.0,791.9L541.5,796.0L542.0,800.0L542.5,804.0L543.0,808.0L543.5,811.8L544.0,815.4L544.5,818.9L545.0,822.1L545.5,824.9L546.0,827.5L546.5,829.6L547.0,831.3L547.5,832.5L548.0,833.2L548.5,833.3L549.0,832.8L549.5,831.6L550.0,829.7L550.5,827.2L551.0,824.0L551.5,820.2L552.0,815.9L552.5,811.0L553.0,805.7L553.5,799.9L554.0,793.6L554.5,787.0L555.0,780.0L555.5,772.7L556.0,765.1L556.5,757.3L557.0,749.3L557.5,741.2L558.0,732.9L558.5,724.7L559.0,716.4L559.5,708.1L560.0,700.0L560.5,692.0L561.0,684.1L561.5,676.5L562.0,669.0L562.5,661.8L563.0,654.8L563.5,648.2L564.0,641.8L564.5,635.7L565.0,630.0L565.5,624.7L566.0,619.7L566.5,615.0L567.0,610.7L567.5,606.6L568.0,602.8L568.5,599.3L569.0,596.0L569.5,592.9L570.0,590.0L570.5,587.3L571.0,584.7L571.5,582.4L572.0,580.3L572.5,578.4L573.0,576.7L573.5,575.3L574.0,574.2L574.5,573.4L575.0,572.9L575.5,572.8L576.0,573.0L576.5,573.5L577.0,574.4L577.5,575.6L578.0,577.3L578.5,579.3L579.0,581.6L579.5,584.4L580.0,587.5L580.5,591.1L581.0,595.0L581.5,599.3L582.0,604.1L582.5,609.3L583.0,615.0L583.5,621.1L584.0,627.8L584.5,635.0L585.0,642.8L585.5,651.1L586.0,660.0L586.5,669.5L587.0,679.5L587.5,690.0L588.0,700.8L588.5,711.7L589.0,722.8L589.5,734.0L590.0,745.0L590.5,755.8L591.0,766.1L591.5,775.5L592.0,783.6L592.5,790.2L593.0,794.8L593.5,797.1L594.0,796.9L594.5,794.2L595.0,789.5L595.5,783.2L596.0,775.6L596.5,767.0L597.0,758.0L597.5,748.9L598.0,740.0L598.5,731.7L599.0,723.9L599.5,716.5L600.0,709.5L600.5,702.8L601.0,696.2L601.5,689.7L602.0,683.2L602.5,676.5L603.0,669.7L603.5,662.5L604.0,655.0L604.5,647.0L605.0,638.7L605.5,630.1L606.0,621.6L606.5,613.1L607.0,605.0L607.5,597.2L608.0,590.0L608.5,583.5L609.0,577.7L609.5,572.5L610.0,568.0L610.5,564.1L611.0,560.8L611.5,558.1L612.0,555.8L612.5,554.1L613.0,552.8L613.5,552.0L614.0,551.7L614.5,551.8L615.0,552.3L615.5,553.2L616.0,554.5L616.5,556.2L617.0,558.2L617.5,560.7L618.0,563.4L618.5,566.6L619.0,570.0L619.5,573.8L620.0,577.9L620.5,582.4L621.0,587.4L621.5,592.9L622.0,599.0L622.5,605.7L623.0,613.0L623.5,621.1L624.0,629.9L624.5,639.5L625.0,650.0L625.5,661.2L626.0,672.9L626.5,684.8L627.0,696.8L627.5,708.6L628.0,720.0L628.5,730.7L629.0,740.7L629.5,749.7L630.0,757.9L630.5,764.9L631.0,770.8L631.5,775.5L632.0,778.8L632.5,780.7L633.0,781.1L633.5,780.3L634.0,778.3L634.5,775.3L635.0,771.6L635.5,767.1L636.0,762.1L636.5,756.8L637.0,751.2L637.5,745.5L638.0,740.0L638.5,734.7L639.0,729.6L639.5,724.8L640.0,720.2L640.5,715.9L641.0,711.9L641.5,708.2L642.0,704.8L642.5,701.7L643.0,698.9L643.5,696.4L644.0,694.3L644.5,692.5L645.0,691.1L645.5,690.0L646.0,689.3L646.5,689.0L647.0,689.1L647.5,689.5L648.0,690.4L648.5,691.6L649.0,693.1L649.5,694.9L650.0,697.1L650.5,699.5L651.0,702.2L651.5,705.1L652.0,708.2L652.5,711.5L653.0,715.0L653.5,718.6L654.0,722.3L654.5,726.2L655.0,730.1L655.5,734.1L656.0,738.1L656.5,742.2L657.0,746.2L657.5,750.3L658.0,754.3L658.5,758.3L659.0,762.2L659.5,766.0L660.0,769.7L660.5,773.3L661.0,776.7L661.5,780.0L662.0,783.1L662.5,786.0L663.0,788.7L663.5,791.1L664.0,793.2L664.5,795.1L665.0,796.7L665.5,798.0L666.0,798.9L666.5,799.5L667.0,799.7L667.5,799.5" fill="none" stroke="#e4121b" stroke-width="5" stroke-linecap="round" stroke-dasharray="0.01 7.2"/>
<path d="M670,496.1 L492.3,496.1 L492.3,865.4 L670,865.4" fill="none" stroke="#0c0a08" stroke-width="3.5" stroke-linecap="square"/>
<line x1="670" y1="496.1" x2="670" y2="865.4" stroke="#0c0a08" stroke-width="3.5" stroke-linecap="square"/>
<line x1="503.6" y1="523.6" x2="530.8" y2="523.6" stroke="#0c0a08" stroke-width="5.2" stroke-linecap="round"/>
<text x="537.5" y="532.2" font-size="26" text-anchor="start" font-weight="normal" fill="#0c0a08" >Near</text>
<circle cx="503.4" cy="554.7" r="2.5" fill="#e4121b"/><circle cx="513" cy="554.7" r="2.5" fill="#e4121b"/><circle cx="522.6" cy="554.7" r="2.5" fill="#e4121b"/>
<text x="537.5" y="562.9" font-size="26" text-anchor="start" font-weight="normal" fill="#0c0a08" >Far</text>
<text x="598.6" y="833.6" font-size="31" text-anchor="start" font-weight="normal" fill="#0c0a08" >A</text>
<text x="482.5" y="874" font-size="31" text-anchor="end" font-weight="normal" fill="#0c0a08" >0</text>
<text x="481" y="628" font-size="31" text-anchor="end" font-weight="normal" fill="#0c0a08" >1</text>
<text x="502.2" y="900.4" font-size="31" text-anchor="middle" font-weight="normal" fill="#0c0a08" >1.2</text>
<text x="584.55" y="900.4" font-size="31" text-anchor="middle" font-weight="normal" fill="#0c0a08" >1.6</text>
<text x="666.9" y="900.4" font-size="31" text-anchor="middle" font-weight="normal" fill="#0c0a08" >2.0</text>
<text x="582.1" y="948.1" font-size="31.7" text-anchor="middle" font-weight="normal" fill="#0c0a08" >Energy (eV)</text>
<text transform="translate(441.7,664.5) rotate(-90)" text-anchor="middle" font-size="32" fill="#0c0a08">|E<tspan font-size="19" dy="5">x</tspan><tspan dy="-5"> | (a.u.)</tspan></text>
<text x="751.9" y="483.8" font-size="42" font-weight="bold" fill="#0c0a08">D</text>
<path d="M818.9,865.3 L828.9,865.3 M818.9,761.8 L823.9,761.8 M818.9,658.2 L828.9,658.2 M818.9,554.7 L823.9,554.7 " stroke="#0c0a08" stroke-width="2.9"/>
<path d="M996.5,865.3 L986.5,865.3 M996.5,761.8 L991.5,761.8 M996.5,658.2 L986.5,658.2 M996.5,554.7 L991.5,554.7 " stroke="#0c0a08" stroke-width="2.9"/>
<path d="M828.7,865.3 L828.7,855.3 M828.7,493 L828.7,503 M869.8,865.3 L869.8,860.3 M869.8,493 L869.8,498 M911.0,865.3 L911.0,855.3 M911.0,493 L911.0,503 M952.1,865.3 L952.1,860.3 M952.1,493 L952.1,498 M993.2,865.3 L993.2,855.3 M993.2,493 L993.2,503 " stroke="#0c0a08" stroke-width="2.9"/>
<path d="M819.2,824.5L819.7,823.6L820.2,822.8L820.7,821.9L821.2,821.1L821.7,820.2L822.2,819.4L822.7,818.6L823.2,817.8L823.7,817.0L824.2,816.2L824.7,815.4L825.2,814.6L825.7,813.8L826.2,813.0L826.7,812.2L827.2,811.4L827.7,810.5L828.2,809.7L828.7,808.9L829.2,808.1L829.7,807.3L830.2,806.4L830.7,805.6L831.2,804.7L831.7,803.8L832.2,802.9L832.7,802.0L833.2,801.1L833.7,800.2L834.2,799.3L834.7,798.3L835.2,797.3L835.7,796.3L836.2,795.3L836.7,794.3L837.2,793.2L837.7,792.1L838.2,791.0L838.7,789.9L839.2,788.7L839.7,787.5L840.2,786.3L840.7,785.0L841.2,783.8L841.7,782.4L842.2,781.1L842.7,779.7L843.2,778.3L843.7,776.9L844.2,775.4L844.7,773.9L845.2,772.3L845.7,770.7L846.2,769.1L846.7,767.4L847.2,765.7L847.7,763.9L848.2,762.1L848.7,760.3L849.2,758.5L849.7,756.6L850.2,754.7L850.7,752.8L851.2,750.9L851.7,749.0L852.2,747.1L852.7,745.1L853.2,743.2L853.7,741.2L854.2,739.3L854.7,737.3L855.2,735.4L855.7,733.5L856.2,731.6L856.7,729.7L857.2,727.8L857.7,726.0L858.2,724.2L858.7,722.4L859.2,720.6L859.7,718.9L860.2,717.2L860.7,715.5L861.2,713.9L861.7,712.3L862.2,710.7L862.7,709.2L863.2,707.8L863.7,706.3L864.2,705.0L864.7,703.6L865.2,702.4L865.7,701.1L866.2,700.0L866.7,698.9L867.2,697.8L867.7,696.8L868.2,695.9L868.7,695.0L869.2,694.2L869.7,693.5L870.2,692.8L870.7,692.1L871.2,691.5L871.7,691.0L872.2,690.4L872.7,689.9L873.2,689.5L873.7,689.0L874.2,688.6L874.7,688.1L875.2,687.7L875.7,687.3L876.2,686.8L876.7,686.4L877.2,685.9L877.7,685.5L878.2,685.0L878.7,684.6L879.2,684.2L879.7,683.9L880.2,683.6L880.7,683.4L881.2,683.2L881.7,683.2L882.2,683.2L882.7,683.3L883.2,683.5L883.7,683.8L884.2,684.2L884.7,684.8L885.2,685.4L885.7,686.3L886.2,687.2L886.7,688.3L887.2,689.6L887.7,691.1L888.2,692.7L888.7,694.5L889.2,696.6L889.7,699.1L890.2,702.0L890.7,705.4L891.2,709.3L891.7,713.9L892.2,719.2L892.7,725.1L893.2,731.4L893.7,738.3L894.2,745.5L894.7,753.0L895.2,760.7L895.7,768.3L896.2,775.3L896.7,781.7L897.2,787.0L897.7,791.1L898.2,793.9L898.7,795.7L899.2,796.3L899.7,795.8L900.2,794.2L900.7,791.6L901.2,787.8L901.7,782.9L902.2,777.0L902.7,770.2L903.2,762.8L903.7,754.9L904.2,746.7L904.7,738.4L905.2,730.3L905.7,722.6L906.2,715.7L906.7,709.8L907.2,704.9L907.7,701.0L908.2,697.8L908.7,695.3L909.2,693.2L909.7,691.4L910.2,689.7L910.7,688.2L911.2,686.6L911.7,685.2L912.2,683.8L912.7,682.6L913.2,681.5L913.7,680.5L914.2,679.7L914.7,679.0L915.2,678.5L915.7,678.2L916.2,677.9L916.7,677.8L917.2,677.7L917.7,677.7L918.2,677.7L918.7,677.8L919.2,677.9L919.7,678.1L920.2,678.2L920.7,678.4L921.2,678.7L921.7,678.9L922.2,679.2L922.7,679.5L923.2,679.8L923.7,680.1L924.2,680.4L924.7,680.8L925.2,681.1L925.7,681.5L926.2,681.9L926.7,682.2L927.2,682.6L927.7,683.0L928.2,683.5L928.7,683.9L929.2,684.4L929.7,684.9L930.2,685.4L930.7,686.0L931.2,686.6L931.7,687.2L932.2,687.9L932.7,688.6L933.2,689.3L933.7,690.1L934.2,690.9L934.7,691.7L935.2,692.5L935.7,693.4L936.2,694.3L936.7,695.1L937.2,696.1L937.7,697.0L938.2,697.9L938.7,698.9L939.2,699.8L939.7,700.8L940.2,701.7L940.7,702.7L941.2,703.8L941.7,704.8L942.2,705.9L942.7,707.1L943.2,708.3L943.7,709.6L944.2,711.0L944.7,712.4L945.2,713.9L945.7,715.6L946.2,717.3L946.7,719.0L947.2,720.9L947.7,722.8L948.2,724.8L948.7,726.8L949.2,728.9L949.7,731.0L950.2,733.1L950.7,735.2L951.2,737.4L951.7,739.5L952.2,741.7L952.7,743.9L953.2,746.0L953.7,748.1L954.2,750.2L954.7,752.2L955.2,754.2L955.7,756.2L956.2,758.1L956.7,759.9L957.2,761.7L957.7,763.4L958.2,765.1L958.7,766.7L959.2,768.3L959.7,769.8L960.2,771.3L960.7,772.7L961.2,774.1L961.7,775.5L962.2,776.9L962.7,778.2L963.2,779.5L963.7,780.8L964.2,782.1L964.7,783.3L965.2,784.6L965.7,785.8L966.2,787.1L966.7,788.3L967.2,789.6L967.7,790.8L968.2,792.1L968.7,793.4L969.2,794.7L969.7,796.1L970.2,797.4L970.7,798.8L971.2,800.2L971.7,801.7L972.2,803.1L972.7,804.6L973.2,806.1L973.7,807.6L974.2,809.2L974.7,810.7L975.2,812.2L975.7,813.8L976.2,815.3L976.7,816.9L977.2,818.4L977.7,820.0L978.2,821.5L978.7,823.1L979.2,824.6L979.7,826.1L980.2,827.6L980.7,829.0L981.2,830.5L981.7,831.9L982.2,833.3L982.7,834.6L983.2,836.0L983.7,837.2L984.2,838.5L984.7,839.7L985.2,840.9L985.7,842.0L986.2,843.1L986.7,844.1L987.2,845.1L987.7,846.0L988.2,846.9L988.7,847.7L989.2,848.4L989.7,849.1L990.2,849.7L990.7,850.3L991.2,850.7L991.7,851.1L992.2,851.5L992.7,851.7L993.2,851.8L993.7,851.9L994.2,851.9L994.7,851.8L995.2,851.6L995.7,851.3" fill="none" stroke="#0c0a08" stroke-width="5" stroke-linejoin="round"/>
<path d="M819.2,824.5L819.7,823.6L820.2,822.8L820.7,821.9L821.2,821.1L821.7,820.2L822.2,819.4L822.7,818.6L823.2,817.8L823.7,817.0L824.2,816.2L824.7,815.4L825.2,814.6L825.7,813.8L826.2,813.0L826.7,812.2L827.2,811.4L827.7,810.6L828.2,809.7L828.7,808.9L829.2,808.1L829.7,807.3L830.2,806.4L830.7,805.6L831.2,804.7L831.7,803.8L832.2,802.9L832.7,802.0L833.2,801.1L833.7,800.2L834.2,799.3L834.7,798.3L835.2,797.3L835.7,796.3L836.2,795.3L836.7,794.2L837.2,793.2L837.7,792.1L838.2,791.0L838.7,789.8L839.2,788.7L839.7,787.5L840.2,786.3L840.7,785.0L841.2,783.7L841.7,782.4L842.2,781.1L842.7,779.7L843.2,778.3L843.7,776.9L844.2,775.4L844.7,773.9L845.2,772.3L845.7,770.7L846.2,769.1L846.7,767.4L847.2,765.7L847.7,763.9L848.2,762.2L848.7,760.3L849.2,758.5L849.7,756.6L850.2,754.8L850.7,752.9L851.2,751.0L851.7,749.0L852.2,747.1L852.7,745.2L853.2,743.2L853.7,741.3L854.2,739.3L854.7,737.4L855.2,735.4L855.7,733.5L856.2,731.6L856.7,729.7L857.2,727.8L857.7,726.0L858.2,724.2L858.7,722.3L859.2,720.6L859.7,718.8L860.2,717.1L860.7,715.4L861.2,713.7L861.7,712.0L862.2,710.4L862.7,708.8L863.2,707.2L863.7,705.6L864.2,704.1L864.7,702.6L865.2,701.2L865.7,699.7L866.2,698.3L866.7,697.0L867.2,695.6L867.7,694.3L868.2,693.0L868.7,691.8L869.2,690.6L869.7,689.4L870.2,688.3L870.7,687.1L871.2,686.1L871.7,685.0L872.2,683.9L872.7,682.9L873.2,681.9L873.7,680.9L874.2,679.9L874.7,678.9L875.2,677.9L875.7,676.9L876.2,675.9L876.7,675.0L877.2,674.0L877.7,673.0L878.2,672.0L878.7,671.0L879.2,670.0L879.7,668.9L880.2,667.9L880.7,666.8L881.2,665.7L881.7,664.6L882.2,663.5L882.7,662.3L883.2,661.1L883.7,659.9L884.2,658.7L884.7,657.4L885.2,656.1L885.7,654.8L886.2,653.5L886.7,652.2L887.2,650.9L887.7,649.5L888.2,648.2L888.7,646.9L889.2,645.6L889.7,644.3L890.2,643.0L890.7,641.7L891.2,640.5L891.7,639.3L892.2,638.1L892.7,636.9L893.2,635.8L893.7,634.7L894.2,633.7L894.7,632.7L895.2,631.8L895.7,630.9L896.2,630.0L896.7,629.2L897.2,628.5L897.7,627.8L898.2,627.1L898.7,626.5L899.2,626.0L899.7,625.5L900.2,625.1L900.7,624.8L901.2,624.5L901.7,624.2L902.2,624.1L902.7,624.0L903.2,623.9L903.7,624.0L904.2,624.0L904.7,624.2L905.2,624.4L905.7,624.7L906.2,625.1L906.7,625.5L907.2,626.0L907.7,626.5L908.2,627.1L908.7,627.7L909.2,628.4L909.7,629.2L910.2,629.9L910.7,630.8L911.2,631.6L911.7,632.6L912.2,633.5L912.7,634.5L913.2,635.5L913.7,636.6L914.2,637.7L914.7,638.8L915.2,639.9L915.7,641.1L916.2,642.2L916.7,643.4L917.2,644.6L917.7,645.8L918.2,647.0L918.7,648.2L919.2,649.4L919.7,650.6L920.2,651.7L920.7,652.9L921.2,654.1L921.7,655.2L922.2,656.3L922.7,657.4L923.2,658.4L923.7,659.4L924.2,660.5L924.7,661.5L925.2,662.4L925.7,663.4L926.2,664.4L926.7,665.3L927.2,666.3L927.7,667.2L928.2,668.2L928.7,669.1L929.2,670.1L929.7,671.0L930.2,672.0L930.7,673.0L931.2,674.0L931.7,675.0L932.2,676.1L932.7,677.1L933.2,678.2L933.7,679.3L934.2,680.5L934.7,681.7L935.2,682.9L935.7,684.1L936.2,685.4L936.7,686.7L937.2,688.0L937.7,689.4L938.2,690.8L938.7,692.2L939.2,693.7L939.7,695.2L940.2,696.8L940.7,698.3L941.2,700.0L941.7,701.6L942.2,703.3L942.7,705.0L943.2,706.8L943.7,708.5L944.2,710.4L944.7,712.2L945.2,714.1L945.7,716.1L946.2,718.1L946.7,720.1L947.2,722.1L947.7,724.1L948.2,726.2L948.7,728.2L949.2,730.3L949.7,732.4L950.2,734.5L950.7,736.6L951.2,738.6L951.7,740.7L952.2,742.8L952.7,744.8L953.2,746.8L953.7,748.8L954.2,750.7L954.7,752.6L955.2,754.5L955.7,756.3L956.2,758.1L956.7,759.8L957.2,761.5L957.7,763.2L958.2,764.8L958.7,766.3L959.2,767.8L959.7,769.3L960.2,770.8L960.7,772.2L961.2,773.6L961.7,775.0L962.2,776.3L962.7,777.7L963.2,779.0L963.7,780.3L964.2,781.6L964.7,782.9L965.2,784.2L965.7,785.5L966.2,786.8L966.7,788.1L967.2,789.4L967.7,790.7L968.2,792.0L968.7,793.3L969.2,794.7L969.7,796.0L970.2,797.4L970.7,798.8L971.2,800.3L971.7,801.7L972.2,803.2L972.7,804.7L973.2,806.2L973.7,807.8L974.2,809.3L974.7,810.8L975.2,812.4L975.7,813.9L976.2,815.5L976.7,817.0L977.2,818.6L977.7,820.1L978.2,821.6L978.7,823.1L979.2,824.6L979.7,826.1L980.2,827.6L980.7,829.1L981.2,830.5L981.7,831.9L982.2,833.3L982.7,834.6L983.2,835.9L983.7,837.2L984.2,838.4L984.7,839.6L985.2,840.8L985.7,841.9L986.2,843.0L986.7,844.0L987.2,844.9L987.7,845.9L988.2,846.7L988.7,847.5L989.2,848.2L989.7,848.9L990.2,849.5L990.7,850.1L991.2,850.6L991.7,851.0L992.2,851.3L992.7,851.5L993.2,851.7L993.7,851.8L994.2,851.8L994.7,851.7L995.2,851.6L995.7,851.3" fill="none" stroke="#e3232b" stroke-width="4.6" stroke-linejoin="round"/>
<path d="M996.5,493 L818.9,493 L818.9,865.3 L996.5,865.3" fill="none" stroke="#0c0a08" stroke-width="3.5" stroke-linecap="square"/>
<line x1="996.5" y1="493" x2="996.5" y2="865.3" stroke="#0c0a08" stroke-width="3.5" stroke-linecap="square"/>
<line x1="893" y1="520.9" x2="920.6" y2="520.9" stroke="#0c0a08" stroke-width="5.2" stroke-linecap="round"/>
<line x1="893" y1="551.8" x2="920.6" y2="551.8" stroke="#e3232b" stroke-width="4.8" stroke-linecap="round"/>
<text x="926.2" y="529.9" font-size="26" text-anchor="start" font-weight="normal" fill="#0c0a08" >Near</text>
<text x="926.2" y="560.6" font-size="26" text-anchor="start" font-weight="normal" fill="#0c0a08" >Far</text>
<text x="808.4" y="874" font-size="31" text-anchor="end" font-weight="normal" fill="#0c0a08" >0</text>
<text x="808.4" y="669" font-size="31" text-anchor="end" font-weight="normal" fill="#0c0a08" >10</text>
<text x="828.7" y="899.6" font-size="31" text-anchor="middle" font-weight="normal" fill="#0c0a08" >1.2</text>
<text x="910.95" y="899.6" font-size="31" text-anchor="middle" font-weight="normal" fill="#0c0a08" >1.6</text>
<text x="993.2" y="899.6" font-size="31" text-anchor="middle" font-weight="normal" fill="#0c0a08" >2.0</text>
<text x="908.2" y="947.6" font-size="31.7" text-anchor="middle" font-weight="normal" fill="#0c0a08" >Energy (eV)</text>
<text transform="translate(748.5,655) rotate(-90)" text-anchor="middle" font-size="32" fill="#0c0a08">|E<tspan font-size="21" dy="6">r,x</tspan><tspan dy="-5"> | (a.u.)</tspan></text>
<text x="1105.6" y="484.4" font-size="42" font-weight="bold" fill="#0c0a08">E</text>
<path d="M1173.3,865.3 L1183.3,865.3 M1173.3,787.9 L1178.3,787.9 M1173.3,710.5 L1183.3,710.5 M1173.3,633.1 L1178.3,633.1 M1173.3,555.7 L1183.3,555.7 " stroke="#0c0a08" stroke-width="2.9"/>
<path d="M1351.6,812.1 L1341.6,812.1 M1351.6,745.8 L1346.6,745.8 M1351.6,679 L1341.6,679 M1351.6,613.1 L1346.6,613.1 M1351.6,547.1 L1341.6,547.1 " stroke="#e4121b" stroke-width="2.9"/>
<path d="M1183.2,865.3 L1183.2,855.3 M1183.2,495 L1183.2,505 M1224.2,865.3 L1224.2,860.3 M1224.2,495 L1224.2,500 M1265.3,865.3 L1265.3,855.3 M1265.3,495 L1265.3,505 M1306.4,865.3 L1306.4,860.3 M1306.4,495 L1306.4,500 M1347.4,865.3 L1347.4,855.3 M1347.4,495 L1347.4,505 " stroke="#0c0a08" stroke-width="2.9"/>
<path d="M1174.2,557.4L1174.5,557.5L1174.8,557.6L1175.1,557.7L1175.4,557.8L1175.7,557.9L1176.0,558.0L1176.3,558.1L1176.6,558.2L1176.9,558.2L1177.2,558.3L1177.5,558.3L1177.8,558.4L1178.1,558.5L1178.4,558.5L1178.7,558.5L1179.0,558.6L1179.3,558.6L1179.6,558.6L1179.9,558.6L1180.2,558.7L1180.5,558.7L1180.8,558.7L1181.1,558.7L1181.4,558.7L1181.7,558.7L1182.0,558.7L1182.3,558.7L1182.6,558.7L1182.9,558.6L1183.2,558.6L1183.5,558.6L1183.8,558.6L1184.1,558.6L1184.4,558.5L1184.7,558.5L1185.0,558.5L1185.3,558.4L1185.6,558.4L1185.9,558.3L1186.2,558.3L1186.5,558.3L1186.8,558.2L1187.1,558.2L1187.4,558.1L1187.7,558.1L1188.0,558.0L1188.3,558.0L1188.6,557.9L1188.9,557.9L1189.2,557.8L1189.5,557.7L1189.8,557.7L1190.1,557.6L1190.4,557.6L1190.7,557.5L1191.0,557.5L1191.3,557.4L1191.6,557.4L1191.9,557.3L1192.2,557.2L1192.5,557.2L1192.8,557.1L1193.1,557.1L1193.4,557.0L1193.7,557.0L1194.0,556.9L1194.3,556.9L1194.6,556.8L1194.9,556.8L1195.2,556.7L1195.5,556.7L1195.8,556.6L1196.1,556.6L1196.4,556.6L1196.7,556.5L1197.0,556.5L1197.3,556.5L1197.6,556.4L1197.9,556.4L1198.2,556.4L1198.5,556.4L1198.8,556.3L1199.1,556.3L1199.4,556.3L1199.7,556.3L1200.0,556.3L1200.3,556.3L1200.6,556.3L1200.9,556.3L1201.2,556.3L1201.5,556.3L1201.8,556.3L1202.1,556.4L1202.4,556.4L1202.7,556.4L1203.0,556.4L1203.3,556.5L1203.6,556.5L1203.9,556.6L1204.2,556.6L1204.5,556.7L1204.8,556.7L1205.1,556.8L1205.4,556.8L1205.7,556.9L1206.0,557.0L1206.3,557.0L1206.6,557.1L1206.9,557.2L1207.2,557.3L1207.5,557.4L1207.8,557.5L1208.1,557.6L1208.4,557.7L1208.7,557.8L1209.0,557.9L1209.3,558.0L1209.6,558.1L1209.9,558.3L1210.2,558.4L1210.5,558.5L1210.8,558.7L1211.1,558.8L1211.4,558.9L1211.7,559.1L1212.0,559.2L1212.3,559.4L1212.6,559.5L1212.9,559.7L1213.2,559.9L1213.5,560.0L1213.8,560.2L1214.1,560.4L1214.4,560.6L1214.7,560.8L1215.0,561.0L1215.3,561.2L1215.6,561.4L1215.9,561.6L1216.2,561.8L1216.5,562.0L1216.8,562.2L1217.1,562.4L1217.4,562.7L1217.7,562.9L1218.0,563.1L1218.3,563.4L1218.6,563.6L1218.9,563.8L1219.2,564.1L1219.5,564.4L1219.8,564.6L1220.1,564.9L1220.4,565.1L1220.7,565.4L1221.0,565.7L1221.3,566.0L1221.6,566.3L1221.9,566.6L1222.2,566.9L1222.5,567.2L1222.8,567.5L1223.1,567.8L1223.4,568.1L1223.7,568.4L1224.0,568.7L1224.3,569.0L1224.6,569.4L1224.9,569.7L1225.2,570.1L1225.5,570.4L1225.8,570.8L1226.1,571.1L1226.4,571.5L1226.7,571.8L1227.0,572.2L1227.3,572.6L1227.6,573.0L1227.9,573.3L1228.2,573.7L1228.5,574.1L1228.8,574.5L1229.1,574.9L1229.4,575.3L1229.7,575.8L1230.0,576.2L1230.3,576.6L1230.6,577.0L1230.9,577.5L1231.2,577.9L1231.5,578.4L1231.8,578.9L1232.1,579.4L1232.4,579.9L1232.7,580.4L1233.0,580.9L1233.3,581.4L1233.6,582.0L1233.9,582.6L1234.2,583.2L1234.5,583.8L1234.8,584.4L1235.1,585.1L1235.4,585.8L1235.7,586.5L1236.0,587.2L1236.3,587.9L1236.6,588.7L1236.9,589.5L1237.2,590.4L1237.5,591.2L1237.8,592.1L1238.1,593.0L1238.4,594.0L1238.7,595.0L1239.0,596.0L1239.3,597.1L1239.6,598.2L1239.9,599.5L1240.2,600.7L1240.5,602.1L1240.8,603.6L1241.1,605.1L1241.4,606.7L1241.7,608.4L1242.0,610.2L1242.3,612.2L1242.6,614.2L1242.9,616.4L1243.2,618.7L1243.5,621.1L1243.8,623.7L1244.1,626.4L1244.4,629.3L1244.7,632.3L1245.0,635.5L1245.3,638.9L1245.6,642.4L1245.9,646.1L1246.2,650.1L1246.5,654.2L1246.8,658.5L1247.1,663.1L1247.4,667.9L1247.7,672.9L1248.0,678.1L1248.3,683.6L1248.6,689.2L1248.9,695.0L1249.2,700.9L1249.5,706.9L1249.8,713.1L1250.1,719.3L1250.4,725.5L1250.7,731.8L1251.0,738.0L1251.3,744.1L1251.6,749.9L1251.9,755.4L1252.2,760.5L1252.5,765.0L1252.8,768.9L1253.1,772.0L1253.4,774.3L1253.7,775.7L1254.0,776.0L1254.3,775.3L1254.6,773.6L1254.9,771.0L1255.2,767.7L1255.5,763.7L1255.8,759.2L1256.1,754.2L1256.4,748.8L1256.7,743.2L1257.0,737.4L1257.3,731.5L1257.6,725.7L1257.9,719.9L1258.2,714.3L1258.5,708.8L1258.8,703.4L1259.1,698.1L1259.4,693.0L1259.7,687.9L1260.0,683.1L1260.3,678.3L1260.6,673.8L1260.9,669.3L1261.2,665.1L1261.5,660.9L1261.8,657.0L1262.1,653.2L1262.4,649.6L1262.7,646.2L1263.0,642.9L1263.3,639.8L1263.6,636.8L1263.9,633.9L1264.2,631.2L1264.5,628.6L1264.8,626.1L1265.1,623.8L1265.4,621.5L1265.7,619.4L1266.0,617.4L1266.3,615.4L1266.6,613.6L1266.9,611.8L1267.2,610.1L1267.5,608.5L1267.8,606.9L1268.1,605.4L1268.4,604.0L1268.7,602.6L1269.0,601.3L1269.3,600.0L1269.6,598.8L1269.9,597.7L1270.2,596.6L1270.5,595.5L1270.8,594.5L1271.1,593.6L1271.4,592.7L1271.7,591.8L1272.0,591.0L1272.3,590.2L1272.6,589.4L1272.9,588.7L1273.2,588.0L1273.5,587.4L1273.8,586.7L1274.1,586.1L1274.4,585.5L1274.7,585.0L1275.0,584.4L1275.3,583.9L1275.6,583.4L1275.9,582.9L1276.2,582.5L1276.5,582.0L1276.8,581.5L1277.1,581.1L1277.4,580.7L1277.7,580.2L1278.0,579.8L1278.3,579.4L1278.6,578.9L1278.9,578.5L1279.2,578.1L1279.5,577.7L1279.8,577.3L1280.1,576.9L1280.4,576.5L1280.7,576.1L1281.0,575.7L1281.3,575.3L1281.6,574.9L1281.9,574.5L1282.2,574.2L1282.5,573.8L1282.8,573.4L1283.1,573.1L1283.4,572.7L1283.7,572.4L1284.0,572.0L1284.3,571.7L1284.6,571.4L1284.9,571.1L1285.2,570.7L1285.5,570.4L1285.8,570.1L1286.1,569.8L1286.4,569.5L1286.7,569.2L1287.0,568.9L1287.3,568.6L1287.6,568.3L1287.9,568.1L1288.2,567.8L1288.5,567.5L1288.8,567.3L1289.1,567.0L1289.4,566.8L1289.7,566.5L1290.0,566.3L1290.3,566.1L1290.6,565.9L1290.9,565.6L1291.2,565.4L1291.5,565.2L1291.8,565.0L1292.1,564.8L1292.4,564.7L1292.7,564.5L1293.0,564.3L1293.3,564.1L1293.6,564.0L1293.9,563.8L1294.2,563.7L1294.5,563.5L1294.8,563.4L1295.1,563.2L1295.4,563.1L1295.7,563.0L1296.0,562.8L1296.3,562.7L1296.6,562.6L1296.9,562.5L1297.2,562.4L1297.5,562.3L1297.8,562.2L1298.1,562.1L1298.4,562.0L1298.7,561.9L1299.0,561.8L1299.3,561.7L1299.6,561.6L1299.9,561.5L1300.2,561.5L1300.5,561.4L1300.8,561.3L1301.1,561.3L1301.4,561.2L1301.7,561.1L1302.0,561.1L1302.3,561.0L1302.6,560.9L1302.9,560.9L1303.2,560.8L1303.5,560.8L1303.8,560.7L1304.1,560.7L1304.4,560.6L1304.7,560.6L1305.0,560.5L1305.3,560.5L1305.6,560.4L1305.9,560.4L1306.2,560.4L1306.5,560.3L1306.8,560.3L1307.1,560.2L1307.4,560.2L1307.7,560.1L1308.0,560.1L1308.3,560.1L1308.6,560.0L1308.9,560.0L1309.2,559.9L1309.5,559.9L1309.8,559.8L1310.1,559.8L1310.4,559.7L1310.7,559.7L1311.0,559.6L1311.3,559.6L1311.6,559.5L1311.9,559.5L1312.2,559.4L1312.5,559.4L1312.8,559.3L1313.1,559.2L1313.4,559.2L1313.7,559.1L1314.0,559.1L1314.3,559.0L1314.6,558.9L1314.9,558.9L1315.2,558.8L1315.5,558.7L1315.8,558.7L1316.1,558.6L1316.4,558.5L1316.7,558.5L1317.0,558.4L1317.3,558.3L1317.6,558.3L1317.9,558.2L1318.2,558.1L1318.5,558.0L1318.8,558.0L1319.1,557.9L1319.4,557.8L1319.7,557.8L1320.0,557.7L1320.3,557.7L1320.6,557.6L1320.9,557.5L1321.2,557.5L1321.5,557.4L1321.8,557.4L1322.1,557.3L1322.4,557.2L1322.7,557.2L1323.0,557.1L1323.3,557.1L1323.6,557.0L1323.9,557.0L1324.2,556.9L1324.5,556.9L1324.8,556.8L1325.1,556.8L1325.4,556.8L1325.7,556.7L1326.0,556.7L1326.3,556.7L1326.6,556.6L1326.9,556.6L1327.2,556.6L1327.5,556.5L1327.8,556.5L1328.1,556.5L1328.4,556.5L1328.7,556.5L1329.0,556.5L1329.3,556.5L1329.6,556.5L1329.9,556.5L1330.2,556.5L1330.5,556.5L1330.8,556.5L1331.1,556.5L1331.4,556.5L1331.7,556.5L1332.0,556.6L1332.3,556.6L1332.6,556.6L1332.9,556.7L1333.2,556.7L1333.5,556.8L1333.8,556.8L1334.1,556.9L1334.4,556.9L1334.7,557.0L1335.0,557.0L1335.3,557.1L1335.6,557.2L1335.9,557.3L1336.2,557.3L1336.5,557.4L1336.8,557.5L1337.1,557.6L1337.4,557.7L1337.7,557.8L1338.0,557.9L1338.3,558.0L1338.6,558.1L1338.9,558.2L1339.2,558.3L1339.5,558.5L1339.8,558.6L1340.1,558.7L1340.4,558.8L1340.7,558.9L1341.0,559.1L1341.3,559.2L1341.6,559.3L1341.9,559.5L1342.2,559.6L1342.5,559.7L1342.8,559.9L1343.1,560.0L1343.4,560.2L1343.7,560.3L1344.0,560.5L1344.3,560.6L1344.6,560.7L1344.9,560.9L1345.2,561.1L1345.5,561.2L1345.8,561.4L1346.1,561.5L1346.4,561.7L1346.7,561.8L1347.0,562.0L1347.3,562.1L1347.6,562.3L1347.9,562.4L1348.2,562.6L1348.5,562.8L1348.8,562.9L1349.1,563.1L1349.4,563.2L1349.7,563.4L1350.0,563.5L1350.3,563.7L1350.6,563.8" fill="none" stroke="#0c0a08" stroke-width="5" stroke-linejoin="round"/>
<path d="M1174.2,687.5L1174.5,687.6L1174.8,687.7L1175.1,687.8L1175.4,688.0L1175.7,688.1L1176.0,688.2L1176.3,688.3L1176.6,688.4L1176.9,688.5L1177.2,688.6L1177.5,688.6L1177.8,688.7L1178.1,688.8L1178.4,688.9L1178.7,689.0L1179.0,689.0L1179.3,689.1L1179.6,689.2L1179.9,689.3L1180.2,689.3L1180.5,689.4L1180.8,689.4L1181.1,689.5L1181.4,689.6L1181.7,689.6L1182.0,689.7L1182.3,689.7L1182.6,689.8L1182.9,689.8L1183.2,689.9L1183.5,689.9L1183.8,689.9L1184.1,690.0L1184.4,690.0L1184.7,690.1L1185.0,690.1L1185.3,690.1L1185.6,690.2L1185.9,690.2L1186.2,690.2L1186.5,690.2L1186.8,690.3L1187.1,690.3L1187.4,690.3L1187.7,690.4L1188.0,690.4L1188.3,690.4L1188.6,690.4L1188.9,690.4L1189.2,690.5L1189.5,690.5L1189.8,690.5L1190.1,690.5L1190.4,690.6L1190.7,690.6L1191.0,690.6L1191.3,690.6L1191.6,690.6L1191.9,690.6L1192.2,690.7L1192.5,690.7L1192.8,690.7L1193.1,690.7L1193.4,690.7L1193.7,690.8L1194.0,690.8L1194.3,690.8L1194.6,690.8L1194.9,690.8L1195.2,690.9L1195.5,690.9L1195.8,690.9L1196.1,690.9L1196.4,691.0L1196.7,691.0L1197.0,691.0L1197.3,691.0L1197.6,691.1L1197.9,691.1L1198.2,691.1L1198.5,691.2L1198.8,691.2L1199.1,691.2L1199.4,691.3L1199.7,691.3L1200.0,691.3L1200.3,691.4L1200.6,691.4L1200.9,691.5L1201.2,691.5L1201.5,691.6L1201.8,691.6L1202.1,691.7L1202.4,691.7L1202.7,691.8L1203.0,691.8L1203.3,691.9L1203.6,691.9L1203.9,692.0L1204.2,692.1L1204.5,692.1L1204.8,692.2L1205.1,692.3L1205.4,692.4L1205.7,692.4L1206.0,692.5L1206.3,692.6L1206.6,692.7L1206.9,692.8L1207.2,692.9L1207.5,693.0L1207.8,693.1L1208.1,693.2L1208.4,693.3L1208.7,693.4L1209.0,693.5L1209.3,693.6L1209.6,693.7L1209.9,693.8L1210.2,694.0L1210.5,694.1L1210.8,694.2L1211.1,694.4L1211.4,694.5L1211.7,694.6L1212.0,694.8L1212.3,694.9L1212.6,695.1L1212.9,695.3L1213.2,695.4L1213.5,695.6L1213.8,695.7L1214.1,695.9L1214.4,696.1L1214.7,696.3L1215.0,696.5L1215.3,696.7L1215.6,696.9L1215.9,697.1L1216.2,697.3L1216.5,697.5L1216.8,697.7L1217.1,697.9L1217.4,698.1L1217.7,698.3L1218.0,698.6L1218.3,698.8L1218.6,699.0L1218.9,699.3L1219.2,699.5L1219.5,699.7L1219.8,700.0L1220.1,700.2L1220.4,700.5L1220.7,700.7L1221.0,701.0L1221.3,701.2L1221.6,701.5L1221.9,701.7L1222.2,702.0L1222.5,702.2L1222.8,702.5L1223.1,702.8L1223.4,703.0L1223.7,703.3L1224.0,703.5L1224.3,703.8L1224.6,704.0L1224.9,704.3L1225.2,704.5L1225.5,704.8L1225.8,705.1L1226.1,705.3L1226.4,705.6L1226.7,705.8L1227.0,706.1L1227.3,706.3L1227.6,706.6L1227.9,706.8L1228.2,707.0L1228.5,707.3L1228.8,707.5L1229.1,707.7L1229.4,708.0L1229.7,708.2L1230.0,708.4L1230.3,708.7L1230.6,708.9L1230.9,709.1L1231.2,709.3L1231.5,709.6L1231.8,709.8L1232.1,710.0L1232.4,710.3L1232.7,710.5L1233.0,710.8L1233.3,711.0L1233.6,711.3L1233.9,711.6L1234.2,711.9L1234.5,712.2L1234.8,712.5L1235.1,712.8L1235.4,713.2L1235.7,713.5L1236.0,713.9L1236.3,714.3L1236.6,714.7L1236.9,715.1L1237.2,715.5L1237.5,716.0L1237.8,716.4L1238.1,716.9L1238.4,717.5L1238.7,718.0L1239.0,718.6L1239.3,719.2L1239.6,719.8L1239.9,720.4L1240.2,721.1L1240.5,721.8L1240.8,722.5L1241.1,723.2L1241.4,724.0L1241.7,724.8L1242.0,725.6L1242.3,726.3L1242.6,727.1L1242.9,727.9L1243.2,728.6L1243.5,729.4L1243.8,730.0L1244.1,730.7L1244.4,731.3L1244.7,731.9L1245.0,732.4L1245.3,732.8L1245.6,733.2L1245.9,733.5L1246.2,733.8L1246.5,733.9L1246.8,734.0L1247.1,733.9L1247.4,733.8L1247.7,733.5L1248.0,733.2L1248.3,732.7L1248.6,732.0L1248.9,731.3L1249.2,730.4L1249.5,729.3L1249.8,728.2L1250.1,726.8L1250.4,725.4L1250.7,723.7L1251.0,722.0L1251.3,720.1L1251.6,718.0L1251.9,715.8L1252.2,713.4L1252.5,710.9L1252.8,708.2L1253.1,705.4L1253.4,702.5L1253.7,699.4L1254.0,696.1L1254.3,692.8L1254.6,689.3L1254.9,685.7L1255.2,682.0L1255.5,678.2L1255.8,674.4L1256.1,670.7L1256.4,667.0L1256.7,663.5L1257.0,660.1L1257.3,657.0L1257.6,654.1L1257.9,651.4L1258.2,649.1L1258.5,647.0L1258.8,645.2L1259.1,643.7L1259.4,642.4L1259.7,641.3L1260.0,640.5L1260.3,639.9L1260.6,639.5L1260.9,639.3L1261.2,639.2L1261.5,639.3L1261.8,639.6L1262.1,640.0L1262.4,640.5L1262.7,641.1L1263.0,641.7L1263.3,642.4L1263.6,643.2L1263.9,644.0L1264.2,644.8L1264.5,645.5L1264.8,646.3L1265.1,647.0L1265.4,647.7L1265.7,648.4L1266.0,649.0L1266.3,649.7L1266.6,650.3L1266.9,650.8L1267.2,651.4L1267.5,651.9L1267.8,652.4L1268.1,652.9L1268.4,653.4L1268.7,653.8L1269.0,654.2L1269.3,654.6L1269.6,655.0L1269.9,655.4L1270.2,655.8L1270.5,656.1L1270.8,656.5L1271.1,656.8L1271.4,657.1L1271.7,657.4L1272.0,657.7L1272.3,658.0L1272.6,658.3L1272.9,658.5L1273.2,658.8L1273.5,659.1L1273.8,659.3L1274.1,659.6L1274.4,659.8L1274.7,660.1L1275.0,660.3L1275.3,660.6L1275.6,660.8L1275.9,661.1L1276.2,661.3L1276.5,661.5L1276.8,661.8L1277.1,662.0L1277.4,662.3L1277.7,662.5L1278.0,662.7L1278.3,663.0L1278.6,663.2L1278.9,663.4L1279.2,663.6L1279.5,663.9L1279.8,664.1L1280.1,664.3L1280.4,664.5L1280.7,664.8L1281.0,665.0L1281.3,665.2L1281.6,665.4L1281.9,665.6L1282.2,665.8L1282.5,666.0L1282.8,666.2L1283.1,666.4L1283.4,666.6L1283.7,666.8L1284.0,667.0L1284.3,667.2L1284.6,667.4L1284.9,667.6L1285.2,667.8L1285.5,668.0L1285.8,668.1L1286.1,668.3L1286.4,668.5L1286.7,668.7L1287.0,668.8L1287.3,669.0L1287.6,669.2L1287.9,669.3L1288.2,669.5L1288.5,669.6L1288.8,669.8L1289.1,670.0L1289.4,670.1L1289.7,670.2L1290.0,670.4L1290.3,670.5L1290.6,670.7L1290.9,670.8L1291.2,670.9L1291.5,671.0L1291.8,671.2L1292.1,671.3L1292.4,671.4L1292.7,671.5L1293.0,671.6L1293.3,671.8L1293.6,671.9L1293.9,672.0L1294.2,672.1L1294.5,672.2L1294.8,672.3L1295.1,672.4L1295.4,672.5L1295.7,672.6L1296.0,672.7L1296.3,672.7L1296.6,672.8L1296.9,672.9L1297.2,673.0L1297.5,673.1L1297.8,673.2L1298.1,673.2L1298.4,673.3L1298.7,673.4L1299.0,673.5L1299.3,673.5L1299.6,673.6L1299.9,673.7L1300.2,673.7L1300.5,673.8L1300.8,673.9L1301.1,673.9L1301.4,674.0L1301.7,674.0L1302.0,674.1L1302.3,674.2L1302.6,674.2L1302.9,674.3L1303.2,674.3L1303.5,674.4L1303.8,674.4L1304.1,674.5L1304.4,674.5L1304.7,674.6L1305.0,674.6L1305.3,674.7L1305.6,674.7L1305.9,674.7L1306.2,674.8L1306.5,674.8L1306.8,674.9L1307.1,674.9L1307.4,674.9L1307.7,675.0L1308.0,675.0L1308.3,675.1L1308.6,675.1L1308.9,675.1L1309.2,675.2L1309.5,675.2L1309.8,675.2L1310.1,675.3L1310.4,675.3L1310.7,675.3L1311.0,675.4L1311.3,675.4L1311.6,675.4L1311.9,675.5L1312.2,675.5L1312.5,675.5L1312.8,675.6L1313.1,675.6L1313.4,675.6L1313.7,675.7L1314.0,675.7L1314.3,675.7L1314.6,675.8L1314.9,675.8L1315.2,675.8L1315.5,675.9L1315.8,675.9L1316.1,675.9L1316.4,676.0L1316.7,676.0L1317.0,676.0L1317.3,676.0L1317.6,676.1L1317.9,676.1L1318.2,676.1L1318.5,676.2L1318.8,676.2L1319.1,676.2L1319.4,676.2L1319.7,676.3L1320.0,676.3L1320.3,676.3L1320.6,676.4L1320.9,676.4L1321.2,676.4L1321.5,676.4L1321.8,676.5L1322.1,676.5L1322.4,676.5L1322.7,676.6L1323.0,676.6L1323.3,676.6L1323.6,676.6L1323.9,676.7L1324.2,676.7L1324.5,676.7L1324.8,676.7L1325.1,676.8L1325.4,676.8L1325.7,676.8L1326.0,676.8L1326.3,676.9L1326.6,676.9L1326.9,676.9L1327.2,676.9L1327.5,676.9L1327.8,677.0L1328.1,677.0L1328.4,677.0L1328.7,677.0L1329.0,677.1L1329.3,677.1L1329.6,677.1L1329.9,677.1L1330.2,677.2L1330.5,677.2L1330.8,677.2L1331.1,677.2L1331.4,677.2L1331.7,677.3L1332.0,677.3L1332.3,677.3L1332.6,677.3L1332.9,677.3L1333.2,677.4L1333.5,677.4L1333.8,677.4L1334.1,677.4L1334.4,677.4L1334.7,677.5L1335.0,677.5L1335.3,677.5L1335.6,677.5L1335.9,677.5L1336.2,677.5L1336.5,677.6L1336.8,677.6L1337.1,677.6L1337.4,677.6L1337.7,677.6L1338.0,677.7L1338.3,677.7L1338.6,677.7L1338.9,677.7L1339.2,677.7L1339.5,677.7L1339.8,677.8L1340.1,677.8L1340.4,677.8L1340.7,677.8L1341.0,677.8L1341.3,677.8L1341.6,677.8L1341.9,677.9L1342.2,677.9L1342.5,677.9L1342.8,677.9L1343.1,677.9L1343.4,677.9L1343.7,677.9L1344.0,678.0L1344.3,678.0L1344.6,678.0L1344.9,678.0L1345.2,678.0L1345.5,678.0L1345.8,678.0L1346.1,678.0L1346.4,678.1L1346.7,678.1L1347.0,678.1L1347.3,678.1L1347.6,678.1L1347.9,678.1L1348.2,678.1L1348.5,678.1L1348.8,678.1L1349.1,678.1L1349.4,678.2L1349.7,678.2L1350.0,678.2L1350.3,678.2L1350.6,678.2" fill="none" stroke="#e4121b" stroke-width="5" stroke-linejoin="round"/>
<path d="M1351.6,495 L1173.3,495 L1173.3,865.3 L1351.6,865.3" fill="none" stroke="#0c0a08" stroke-width="3.5" stroke-linecap="square"/>
<line x1="1351.6" y1="495" x2="1351.6" y2="865.3" stroke="#e4121b" stroke-width="3.5" stroke-linecap="square"/>
<text x="1161.7" y="565.2" font-size="31" text-anchor="end" font-weight="normal" fill="#0c0a08" >1.0</text>
<text x="1161.7" y="720" font-size="31" text-anchor="end" font-weight="normal" fill="#0c0a08" >0.5</text>
<text x="1161.7" y="873.7" font-size="31" text-anchor="end" font-weight="normal" fill="#0c0a08" >0.0</text>
<text x="1183.2" y="900.1" font-size="31" text-anchor="middle" font-weight="normal" fill="#0c0a08" >1.2</text>
<text x="1265.3000000000002" y="900.1" font-size="31" text-anchor="middle" font-weight="normal" fill="#0c0a08" >1.6</text>
<text x="1347.4" y="900.1" font-size="31" text-anchor="middle" font-weight="normal" fill="#0c0a08" >2.0</text>
<text x="1262.7" y="948.5" font-size="31.7" text-anchor="middle" font-weight="normal" fill="#0c0a08" >Energy (eV)</text>
<text x="1362.4" y="557.3" font-size="31" text-anchor="start" font-weight="normal" fill="#e4121b" >100</text>
<text x="1363.5" y="688.5" font-size="31" text-anchor="start" font-weight="normal" fill="#e4121b" >0</text>
<text x="1360.3" y="822.3" font-size="32.2" text-anchor="start" font-weight="normal" fill="#e4121b" >−100</text>
<text transform="translate(1468.4,676) rotate(-90)" text-anchor="middle" font-size="31.3" fill="#e4121b">Phase (°)</text>
<text transform="translate(1098,684) rotate(-90)" text-anchor="middle" font-size="32" fill="#0c0a08">|E<tspan font-size="21.5" dy="6">r,x,near</tspan><tspan dy="-6"> | / |E</tspan><tspan font-size="21.5" dy="6">r,x,far</tspan><tspan dy="-6"> |</tspan></text>
</svg></body></html>
